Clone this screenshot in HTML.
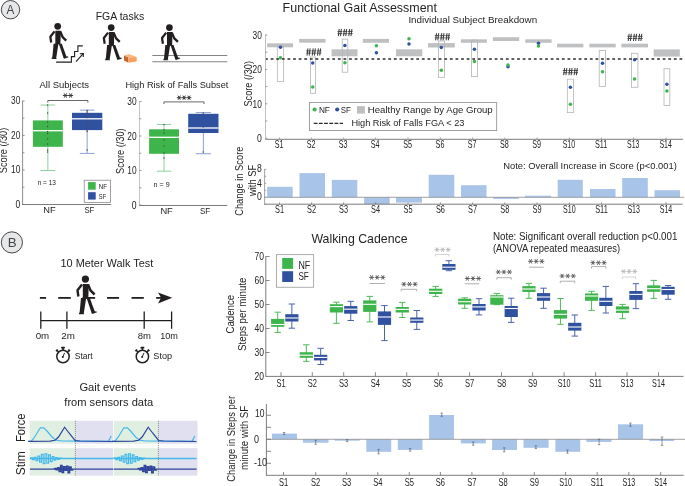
<!DOCTYPE html><html><head><meta charset="utf-8"><style>html,body{margin:0;padding:0;background:#fff;}svg{display:block;font-family:"Liberation Sans",sans-serif;will-change:transform;}</style></head><body>
<svg width="685" height="486" viewBox="0 0 685 486">
<rect width="685" height="486" fill="#fff"/>
<circle cx="10.5" cy="9.7" r="9.2" fill="#e6e7e8" stroke="#333" stroke-width="0.9"/>
<text x="10.5" y="13.8" font-size="13.10" fill="#444" text-anchor="middle" textLength="7.8" lengthAdjust="spacingAndGlyphs" >A</text>
<text x="95.7" y="20.4" font-size="11.02" fill="#242424" textLength="48.5" lengthAdjust="spacingAndGlyphs" >FGA tasks</text>
<g transform="translate(57.7 26.3) scale(0.93)" fill="#231f20" stroke="#231f20">
<circle cx="0" cy="0" r="3.6" stroke="none"/>
<polygon points="-2.6,4.8 3.4,4.8 2.9,19.4 -2.6,19.4" stroke="none"/>
<polyline points="-3.4,5.4 -7.9,11.2 -7.0,17.4" fill="none" stroke-width="2.4" stroke-linejoin="round"/>
<polyline points="2.6,5.4 5.3,11.6 9.2,15.4" fill="none" stroke-width="2.5" stroke-linejoin="round"/>
<polygon points="-4.4,18.8 0.8,18.8 -1.7,34.6 -5.9,34.6" stroke="none"/>
<polygon points="-6.4,33.6 -1.5,34.2 -1.2,35.2 -6.4,35.2" stroke="none"/>
<polygon points="1.2,18.8 4.4,18.8 9.6,33.0 6.4,34.4" stroke="none"/>
<polygon points="6.2,33.2 10.8,32.2 11.6,33.2 7.0,34.8" stroke="none"/>
</g>
<polyline points="56.1,62.1 71.4,62.1 71.4,56.6 74.6,56.6 74.6,51.5 77.9,51.5 77.9,45.9 82.8,45.9" fill="none" stroke="#231f20" stroke-width="1.1"/>
<line x1="76.0" y1="61.7" x2="83.2" y2="53.7" stroke="#231f20" stroke-width="1.1" />
<polyline points="79.8,53.8 83.4,53.5 83.2,57.0" fill="none" stroke="#231f20" stroke-width="1.1"/>
<g transform="translate(111.2 27.6) scale(0.93)" fill="#231f20" stroke="#231f20">
<circle cx="0" cy="0" r="3.6" stroke="none"/>
<polygon points="-2.6,4.8 3.4,4.8 2.9,19.4 -2.6,19.4" stroke="none"/>
<polyline points="-3.4,5.4 -7.9,11.2 -7.0,17.4" fill="none" stroke-width="2.4" stroke-linejoin="round"/>
<polyline points="2.6,5.4 5.3,11.6 9.2,15.4" fill="none" stroke-width="2.5" stroke-linejoin="round"/>
<polygon points="-4.4,18.8 0.8,18.8 -1.7,34.6 -5.9,34.6" stroke="none"/>
<polygon points="-6.4,33.6 -1.5,34.2 -1.2,35.2 -6.4,35.2" stroke="none"/>
<polygon points="1.2,18.8 4.4,18.8 9.6,33.0 6.4,34.4" stroke="none"/>
<polygon points="6.2,33.2 10.8,32.2 11.6,33.2 7.0,34.8" stroke="none"/>
</g>
<polygon points="124,55.6 128.8,54.1 136.7,57 128.3,57.5" fill="#fbb984"/>
<polygon points="124,55.6 128.3,57.5 128.3,62.8 124,60.6" fill="#c4682b"/>
<polygon points="128.3,57.5 136.7,57 136.7,61.6 128.3,62.8" fill="#f6a160"/>
<line x1="152.3" y1="55.5" x2="227.3" y2="55.5" stroke="#858585" stroke-width="1.1" />
<line x1="152.3" y1="61.8" x2="227.3" y2="61.8" stroke="#858585" stroke-width="1.1" />
<g transform="translate(169.4 27.6) scale(0.93)" fill="#231f20" stroke="#231f20">
<circle cx="0" cy="0" r="3.6" stroke="none"/>
<polygon points="-2.6,4.8 3.4,4.8 2.9,19.4 -2.6,19.4" stroke="none"/>
<polyline points="-3.4,5.4 -7.9,11.2 -7.0,17.4" fill="none" stroke-width="2.4" stroke-linejoin="round"/>
<polyline points="2.6,5.4 5.3,11.6 9.2,15.4" fill="none" stroke-width="2.5" stroke-linejoin="round"/>
<polygon points="-4.4,18.8 0.8,18.8 -1.7,34.6 -5.9,34.6" stroke="none"/>
<polygon points="-6.4,33.6 -1.5,34.2 -1.2,35.2 -6.4,35.2" stroke="none"/>
<polygon points="1.2,18.8 4.4,18.8 9.6,33.0 6.4,34.4" stroke="none"/>
<polygon points="6.2,33.2 10.8,32.2 11.6,33.2 7.0,34.8" stroke="none"/>
</g>
<text x="39.5" y="88.1" font-size="9.98" fill="#242424" textLength="49.6" lengthAdjust="spacingAndGlyphs" >All Subjects</text>
<line x1="22.6" y1="100.6" x2="22.6" y2="204.9" stroke="#6d6d6d" stroke-width="0.8" />
<line x1="22.2" y1="204.5" x2="111.2" y2="204.5" stroke="#6d6d6d" stroke-width="0.9" />
<line x1="22.6" y1="204.5" x2="24.6" y2="204.5" stroke="#6d6d6d" stroke-width="0.7" />
<line x1="22.6" y1="187.235" x2="24.4" y2="187.235" stroke="#6d6d6d" stroke-width="0.7" />
<line x1="22.6" y1="169.97" x2="24.6" y2="169.97" stroke="#6d6d6d" stroke-width="0.7" />
<line x1="22.6" y1="152.705" x2="24.4" y2="152.705" stroke="#6d6d6d" stroke-width="0.7" />
<line x1="22.6" y1="135.44" x2="24.6" y2="135.44" stroke="#6d6d6d" stroke-width="0.7" />
<line x1="22.6" y1="118.175" x2="24.4" y2="118.175" stroke="#6d6d6d" stroke-width="0.7" />
<line x1="22.6" y1="100.91000000000001" x2="24.6" y2="100.91000000000001" stroke="#6d6d6d" stroke-width="0.7" />
<text x="20.4" y="104.11000000000001" font-size="11.02" fill="#242424" text-anchor="end" textLength="9.3" lengthAdjust="spacingAndGlyphs" >30</text>
<text x="20.4" y="138.64" font-size="11.02" fill="#242424" text-anchor="end" textLength="9.3" lengthAdjust="spacingAndGlyphs" >20</text>
<text x="20.4" y="173.17" font-size="11.02" fill="#242424" text-anchor="end" textLength="9.3" lengthAdjust="spacingAndGlyphs" >10</text>
<text x="20.4" y="207.7" font-size="11.02" fill="#242424" text-anchor="end" textLength="4.8" lengthAdjust="spacingAndGlyphs" >0</text>
<text x="7.0" y="173.2" font-size="10.82" fill="#242424" textLength="45.5" lengthAdjust="spacingAndGlyphs" transform="rotate(-90 7.0 173.2)" >Score (/30)</text>
<line x1="47.85" y1="105.0" x2="47.85" y2="170.5" stroke="#8fd19a" stroke-width="1" />
<line x1="40.5" y1="105.0" x2="55.2" y2="105.0" stroke="#8fd19a" stroke-width="1" />
<line x1="40.5" y1="170.5" x2="55.2" y2="170.5" stroke="#8fd19a" stroke-width="1" />
<rect x="32.900000000000006" y="120.4" width="29.9" height="26.400000000000006" fill="#3db54a" />
<rect x="32.900000000000006" y="130.04999999999998" width="29.9" height="1.3" fill="#ffffff" />
<line x1="87.15" y1="110.1" x2="87.15" y2="153.4" stroke="#8c9fd2" stroke-width="1" />
<line x1="79.85000000000001" y1="110.1" x2="94.45" y2="110.1" stroke="#8c9fd2" stroke-width="1" />
<line x1="79.85000000000001" y1="153.4" x2="94.45" y2="153.4" stroke="#8c9fd2" stroke-width="1" />
<rect x="72.0" y="112.8" width="30.3" height="17.299999999999997" fill="#3050a0" />
<rect x="72.0" y="118.14999999999999" width="30.3" height="1.3" fill="#ffffff" />
<circle cx="47.6" cy="105" r="0.7" fill="#4a4a4a"/>
<circle cx="47.6" cy="113" r="0.7" fill="#4a4a4a"/>
<circle cx="47.6" cy="122" r="0.7" fill="#4a4a4a"/>
<circle cx="47.6" cy="126.5" r="0.7" fill="#4a4a4a"/>
<circle cx="47.6" cy="131.5" r="0.7" fill="#4a4a4a"/>
<circle cx="47.6" cy="133.5" r="0.7" fill="#4a4a4a"/>
<circle cx="47.6" cy="139" r="0.7" fill="#4a4a4a"/>
<circle cx="47.6" cy="144" r="0.7" fill="#4a4a4a"/>
<circle cx="47.6" cy="150" r="0.7" fill="#4a4a4a"/>
<circle cx="47.6" cy="152" r="0.7" fill="#4a4a4a"/>
<circle cx="87.1" cy="110.5" r="0.7" fill="#4a4a4a"/>
<circle cx="87.1" cy="112" r="0.7" fill="#4a4a4a"/>
<circle cx="87.1" cy="114" r="0.7" fill="#4a4a4a"/>
<circle cx="87.1" cy="117.5" r="0.7" fill="#4a4a4a"/>
<circle cx="87.1" cy="122.5" r="0.7" fill="#4a4a4a"/>
<circle cx="87.1" cy="127" r="0.7" fill="#4a4a4a"/>
<circle cx="87.1" cy="130" r="0.7" fill="#4a4a4a"/>
<circle cx="87.1" cy="131.5" r="0.7" fill="#4a4a4a"/>
<circle cx="87.1" cy="150" r="0.7" fill="#4a4a4a"/>
<polyline points="47.8,102.6 47.8,100.5 87.9,100.5 87.9,102.6" fill="none" stroke="#444" stroke-width="0.8"/>
<line x1="62.90" y1="95.50" x2="67.90" y2="95.50" stroke="#3a3a3a" stroke-width="1.0"/>
<line x1="64.15" y1="93.33" x2="66.65" y2="97.67" stroke="#3a3a3a" stroke-width="1.0"/>
<line x1="66.65" y1="93.33" x2="64.15" y2="97.67" stroke="#3a3a3a" stroke-width="1.0"/>
<line x1="68.10" y1="95.50" x2="73.10" y2="95.50" stroke="#3a3a3a" stroke-width="1.0"/>
<line x1="69.35" y1="93.33" x2="71.85" y2="97.67" stroke="#3a3a3a" stroke-width="1.0"/>
<line x1="71.85" y1="93.33" x2="69.35" y2="97.67" stroke="#3a3a3a" stroke-width="1.0"/>
<text x="37.7" y="184.8" font-size="7.28" fill="#242424" textLength="18.3" lengthAdjust="spacingAndGlyphs" >n = 13</text>
<rect x="84.2" y="180.2" width="26.3" height="22.2" fill="#fff" stroke="#7a7a7a" stroke-width="0.7"/>
<rect x="88.1" y="182.1" width="7.6" height="7.6" fill="#3db54a" />
<rect x="88.1" y="192.2" width="7.6" height="7.4" fill="#3050a0" />
<text x="98.8" y="188.6" font-size="7.07" fill="#242424" textLength="8.2" lengthAdjust="spacingAndGlyphs" >NF</text>
<text x="98.8" y="198.6" font-size="7.07" fill="#242424" textLength="7.4" lengthAdjust="spacingAndGlyphs" >SF</text>
<text x="43.2" y="212.8" font-size="9.88" fill="#242424" textLength="12.4" lengthAdjust="spacingAndGlyphs" >NF</text>
<text x="84.4" y="212.8" font-size="9.88" fill="#242424" textLength="9.9" lengthAdjust="spacingAndGlyphs" >SF</text>
<text x="125.4" y="88.1" font-size="9.98" fill="#242424" textLength="103.0" lengthAdjust="spacingAndGlyphs" >High Risk of Falls Subset</text>
<line x1="139.5" y1="101.2" x2="139.5" y2="205.9" stroke="#b8b8b8" stroke-width="0.8" />
<line x1="139.4" y1="205.5" x2="227.3" y2="205.5" stroke="#6d6d6d" stroke-width="0.9" />
<line x1="139.5" y1="205.0" x2="141.5" y2="205.0" stroke="#6d6d6d" stroke-width="0.7" />
<line x1="139.5" y1="187.75" x2="141.3" y2="187.75" stroke="#6d6d6d" stroke-width="0.7" />
<line x1="139.5" y1="170.5" x2="141.5" y2="170.5" stroke="#6d6d6d" stroke-width="0.7" />
<line x1="139.5" y1="153.25" x2="141.3" y2="153.25" stroke="#6d6d6d" stroke-width="0.7" />
<line x1="139.5" y1="136.0" x2="141.5" y2="136.0" stroke="#6d6d6d" stroke-width="0.7" />
<line x1="139.5" y1="118.75" x2="141.3" y2="118.75" stroke="#6d6d6d" stroke-width="0.7" />
<line x1="139.5" y1="101.5" x2="141.5" y2="101.5" stroke="#6d6d6d" stroke-width="0.7" />
<text x="136.6" y="105.1" font-size="11.02" fill="#242424" text-anchor="end" textLength="9.3" lengthAdjust="spacingAndGlyphs" >30</text>
<text x="136.6" y="139.6" font-size="11.02" fill="#242424" text-anchor="end" textLength="9.3" lengthAdjust="spacingAndGlyphs" >20</text>
<text x="136.6" y="174.1" font-size="11.02" fill="#242424" text-anchor="end" textLength="9.3" lengthAdjust="spacingAndGlyphs" >10</text>
<text x="136.6" y="208.6" font-size="11.02" fill="#242424" text-anchor="end" textLength="4.8" lengthAdjust="spacingAndGlyphs" >0</text>
<text x="124.1" y="173.9" font-size="10.82" fill="#242424" textLength="45.6" lengthAdjust="spacingAndGlyphs" transform="rotate(-90 124.1 173.9)" >Score (/30)</text>
<line x1="164.05" y1="124.5" x2="164.05" y2="171.2" stroke="#8fd19a" stroke-width="1" />
<line x1="156.9" y1="124.5" x2="171.20000000000002" y2="124.5" stroke="#8fd19a" stroke-width="1" />
<line x1="156.9" y1="171.2" x2="171.20000000000002" y2="171.2" stroke="#8fd19a" stroke-width="1" />
<rect x="149.10000000000002" y="129.3" width="29.9" height="24.5" fill="#3db54a" />
<rect x="149.10000000000002" y="136.65" width="29.9" height="1.3" fill="#ffffff" />
<line x1="203.35" y1="112.6" x2="203.35" y2="153.7" stroke="#8c9fd2" stroke-width="1" />
<line x1="195.79999999999998" y1="112.6" x2="210.9" y2="112.6" stroke="#8c9fd2" stroke-width="1" />
<line x1="195.79999999999998" y1="153.7" x2="210.9" y2="153.7" stroke="#8c9fd2" stroke-width="1" />
<rect x="188.2" y="113.8" width="30.3" height="19.200000000000003" fill="#3050a0" />
<rect x="188.2" y="127.35" width="30.3" height="1.3" fill="#ffffff" />
<circle cx="163.9" cy="124.5" r="0.7" fill="#4a4a4a"/>
<circle cx="163.9" cy="130" r="0.7" fill="#4a4a4a"/>
<circle cx="163.9" cy="133" r="0.7" fill="#4a4a4a"/>
<circle cx="163.9" cy="140" r="0.7" fill="#4a4a4a"/>
<circle cx="163.9" cy="146" r="0.7" fill="#4a4a4a"/>
<circle cx="163.9" cy="153" r="0.7" fill="#4a4a4a"/>
<circle cx="163.9" cy="158" r="0.7" fill="#4a4a4a"/>
<circle cx="203.2" cy="113" r="0.7" fill="#4a4a4a"/>
<circle cx="203.2" cy="115" r="0.7" fill="#4a4a4a"/>
<circle cx="203.2" cy="127" r="0.7" fill="#4a4a4a"/>
<circle cx="203.2" cy="131.5" r="0.7" fill="#4a4a4a"/>
<circle cx="203.2" cy="152" r="0.7" fill="#4a4a4a"/>
<polyline points="163.9,104.0 163.9,101.9 204.0,101.9 204.0,104.0" fill="none" stroke="#444" stroke-width="0.8"/>
<line x1="176.80" y1="97.70" x2="181.60" y2="97.70" stroke="#3a3a3a" stroke-width="1.0"/>
<line x1="178.00" y1="95.62" x2="180.40" y2="99.78" stroke="#3a3a3a" stroke-width="1.0"/>
<line x1="180.40" y1="95.62" x2="178.00" y2="99.78" stroke="#3a3a3a" stroke-width="1.0"/>
<line x1="181.70" y1="97.70" x2="186.50" y2="97.70" stroke="#3a3a3a" stroke-width="1.0"/>
<line x1="182.90" y1="95.62" x2="185.30" y2="99.78" stroke="#3a3a3a" stroke-width="1.0"/>
<line x1="185.30" y1="95.62" x2="182.90" y2="99.78" stroke="#3a3a3a" stroke-width="1.0"/>
<line x1="186.60" y1="97.70" x2="191.40" y2="97.70" stroke="#3a3a3a" stroke-width="1.0"/>
<line x1="187.80" y1="95.62" x2="190.20" y2="99.78" stroke="#3a3a3a" stroke-width="1.0"/>
<line x1="190.20" y1="95.62" x2="187.80" y2="99.78" stroke="#3a3a3a" stroke-width="1.0"/>
<text x="153.6" y="186.6" font-size="7.28" fill="#242424" textLength="16.1" lengthAdjust="spacingAndGlyphs" >n = 9</text>
<text x="160.4" y="214.0" font-size="9.67" fill="#242424" textLength="12.4" lengthAdjust="spacingAndGlyphs" >NF</text>
<text x="200.0" y="214.0" font-size="9.67" fill="#242424" textLength="10.2" lengthAdjust="spacingAndGlyphs" >SF</text>
<text x="282.6" y="12.3" font-size="12.90" fill="#242424" textLength="154.4" lengthAdjust="spacingAndGlyphs" >Functional Gait Assessment</text>
<text x="408.4" y="23.1" font-size="9.78" fill="#242424" textLength="128.7" lengthAdjust="spacingAndGlyphs" >Individual Subject Breakdown</text>
<rect x="267.1" y="43.3" width="26.0" height="4.0" fill="#bfc0c2" />
<rect x="299.1" y="38.9" width="26.399999999999977" height="3.8000000000000043" fill="#bfc0c2" />
<rect x="331.6" y="49.3" width="25.899999999999977" height="7.0" fill="#bfc0c2" />
<rect x="362.8" y="38.9" width="26.19999999999999" height="3.8999999999999986" fill="#bfc0c2" />
<rect x="396.0" y="49.3" width="26.30000000000001" height="7.0" fill="#bfc0c2" />
<rect x="428.1" y="43.1" width="26.69999999999999" height="4.399999999999999" fill="#bfc0c2" />
<rect x="460.9" y="39.3" width="25.900000000000034" height="3.5" fill="#bfc0c2" />
<rect x="492.9" y="37.2" width="26.300000000000068" height="3.799999999999997" fill="#bfc0c2" />
<rect x="525.3" y="39.3" width="26.300000000000068" height="3.5" fill="#bfc0c2" />
<rect x="557.1" y="43.7" width="26.299999999999955" height="3.6999999999999957" fill="#bfc0c2" />
<rect x="589.3" y="43.7" width="26.40000000000009" height="3.6999999999999957" fill="#bfc0c2" />
<rect x="621.4" y="43.7" width="26.600000000000023" height="3.6999999999999957" fill="#bfc0c2" />
<rect x="653.7" y="49.4" width="26.09999999999991" height="7.200000000000003" fill="#bfc0c2" />
<rect x="277.3" y="45.2" width="6.099999999999966" height="36.2" fill="none" stroke="#b5b5b5" stroke-width="0.8"/>
<rect x="310.4" y="57.0" width="5.2000000000000455" height="36.3" fill="none" stroke="#b5b5b5" stroke-width="0.8"/>
<rect x="342.2" y="39.1" width="5.600000000000023" height="33.1" fill="none" stroke="#b5b5b5" stroke-width="0.8"/>
<rect x="438.5" y="41.0" width="6.100000000000023" height="36.3" fill="none" stroke="#b5b5b5" stroke-width="0.8"/>
<rect x="471.4" y="40.1" width="6.100000000000023" height="36.49999999999999" fill="none" stroke="#b5b5b5" stroke-width="0.8"/>
<rect x="567.3" y="79.2" width="6.2000000000000455" height="33.39999999999999" fill="none" stroke="#b5b5b5" stroke-width="0.8"/>
<rect x="599.2" y="50.4" width="6.199999999999932" height="36.00000000000001" fill="none" stroke="#b5b5b5" stroke-width="0.8"/>
<rect x="631.5" y="53.3" width="6.399999999999977" height="34.0" fill="none" stroke="#b5b5b5" stroke-width="0.8"/>
<rect x="664.0" y="68.7" width="5.7999999999999545" height="36.7" fill="none" stroke="#b5b5b5" stroke-width="0.8"/>
<line x1="265.1" y1="58.9" x2="684" y2="58.9" stroke="#2b2b2b" stroke-width="1.5" stroke-dasharray="2.75 2.85"/>
<circle cx="280.5" cy="57.8" r="1.75" fill="#3cb54a"/>
<circle cx="280.5" cy="47.3" r="1.75" fill="#3050a0"/>
<circle cx="312.7" cy="87.1" r="1.75" fill="#3cb54a"/>
<circle cx="312.7" cy="63.1" r="1.75" fill="#3050a0"/>
<line x1="307.90" y1="48.40" x2="307.00" y2="55.60" stroke="#3a3a3a" stroke-width="1.0"/>
<line x1="310.10" y1="48.40" x2="309.20" y2="55.60" stroke="#3a3a3a" stroke-width="1.0"/>
<line x1="306.25" y1="50.90" x2="310.85" y2="50.90" stroke="#3a3a3a" stroke-width="0.9"/>
<line x1="306.25" y1="53.10" x2="310.85" y2="53.10" stroke="#3a3a3a" stroke-width="0.9"/>
<line x1="313.15" y1="48.40" x2="312.25" y2="55.60" stroke="#3a3a3a" stroke-width="1.0"/>
<line x1="315.35" y1="48.40" x2="314.45" y2="55.60" stroke="#3a3a3a" stroke-width="1.0"/>
<line x1="311.50" y1="50.90" x2="316.10" y2="50.90" stroke="#3a3a3a" stroke-width="0.9"/>
<line x1="311.50" y1="53.10" x2="316.10" y2="53.10" stroke="#3a3a3a" stroke-width="0.9"/>
<line x1="318.40" y1="48.40" x2="317.50" y2="55.60" stroke="#3a3a3a" stroke-width="1.0"/>
<line x1="320.60" y1="48.40" x2="319.70" y2="55.60" stroke="#3a3a3a" stroke-width="1.0"/>
<line x1="316.75" y1="50.90" x2="321.35" y2="50.90" stroke="#3a3a3a" stroke-width="0.9"/>
<line x1="316.75" y1="53.10" x2="321.35" y2="53.10" stroke="#3a3a3a" stroke-width="0.9"/>
<circle cx="344.9" cy="62.7" r="1.75" fill="#3cb54a"/>
<circle cx="344.9" cy="45.5" r="1.75" fill="#3050a0"/>
<line x1="339.20" y1="28.95" x2="338.30" y2="36.15" stroke="#3a3a3a" stroke-width="1.0"/>
<line x1="341.40" y1="28.95" x2="340.50" y2="36.15" stroke="#3a3a3a" stroke-width="1.0"/>
<line x1="337.55" y1="31.45" x2="342.15" y2="31.45" stroke="#3a3a3a" stroke-width="0.9"/>
<line x1="337.55" y1="33.65" x2="342.15" y2="33.65" stroke="#3a3a3a" stroke-width="0.9"/>
<line x1="344.45" y1="28.95" x2="343.55" y2="36.15" stroke="#3a3a3a" stroke-width="1.0"/>
<line x1="346.65" y1="28.95" x2="345.75" y2="36.15" stroke="#3a3a3a" stroke-width="1.0"/>
<line x1="342.80" y1="31.45" x2="347.40" y2="31.45" stroke="#3a3a3a" stroke-width="0.9"/>
<line x1="342.80" y1="33.65" x2="347.40" y2="33.65" stroke="#3a3a3a" stroke-width="0.9"/>
<line x1="349.70" y1="28.95" x2="348.80" y2="36.15" stroke="#3a3a3a" stroke-width="1.0"/>
<line x1="351.90" y1="28.95" x2="351.00" y2="36.15" stroke="#3a3a3a" stroke-width="1.0"/>
<line x1="348.05" y1="31.45" x2="352.65" y2="31.45" stroke="#3a3a3a" stroke-width="0.9"/>
<line x1="348.05" y1="33.65" x2="352.65" y2="33.65" stroke="#3a3a3a" stroke-width="0.9"/>
<circle cx="376.4" cy="45.8" r="1.75" fill="#3cb54a"/>
<circle cx="376.4" cy="52.8" r="1.75" fill="#3050a0"/>
<circle cx="409.0" cy="38.7" r="1.75" fill="#3cb54a"/>
<circle cx="409.0" cy="44.0" r="1.75" fill="#3050a0"/>
<circle cx="441.3" cy="70.3" r="1.75" fill="#3cb54a"/>
<circle cx="441.3" cy="47.5" r="1.75" fill="#3050a0"/>
<line x1="436.50" y1="33.15" x2="435.60" y2="40.35" stroke="#3a3a3a" stroke-width="1.0"/>
<line x1="438.70" y1="33.15" x2="437.80" y2="40.35" stroke="#3a3a3a" stroke-width="1.0"/>
<line x1="434.85" y1="35.65" x2="439.45" y2="35.65" stroke="#3a3a3a" stroke-width="0.9"/>
<line x1="434.85" y1="37.85" x2="439.45" y2="37.85" stroke="#3a3a3a" stroke-width="0.9"/>
<line x1="441.75" y1="33.15" x2="440.85" y2="40.35" stroke="#3a3a3a" stroke-width="1.0"/>
<line x1="443.95" y1="33.15" x2="443.05" y2="40.35" stroke="#3a3a3a" stroke-width="1.0"/>
<line x1="440.10" y1="35.65" x2="444.70" y2="35.65" stroke="#3a3a3a" stroke-width="0.9"/>
<line x1="440.10" y1="37.85" x2="444.70" y2="37.85" stroke="#3a3a3a" stroke-width="0.9"/>
<line x1="447.00" y1="33.15" x2="446.10" y2="40.35" stroke="#3a3a3a" stroke-width="1.0"/>
<line x1="449.20" y1="33.15" x2="448.30" y2="40.35" stroke="#3a3a3a" stroke-width="1.0"/>
<line x1="445.35" y1="35.65" x2="449.95" y2="35.65" stroke="#3a3a3a" stroke-width="0.9"/>
<line x1="445.35" y1="37.85" x2="449.95" y2="37.85" stroke="#3a3a3a" stroke-width="0.9"/>
<circle cx="474.4" cy="61.5" r="1.75" fill="#3cb54a"/>
<circle cx="474.4" cy="49.3" r="1.75" fill="#3050a0"/>
<circle cx="508.0" cy="66.8" r="1.75" fill="#3050a0"/>
<circle cx="508.0" cy="65.0" r="1.75" fill="#3cb54a"/>
<circle cx="538.5" cy="43.3" r="1.75" fill="#3050a0"/>
<circle cx="538.5" cy="45.9" r="1.75" fill="#3cb54a"/>
<circle cx="570.4" cy="104.3" r="1.75" fill="#3cb54a"/>
<circle cx="570.4" cy="87.3" r="1.75" fill="#3050a0"/>
<line x1="564.60" y1="68.00" x2="563.70" y2="75.20" stroke="#3a3a3a" stroke-width="1.0"/>
<line x1="566.80" y1="68.00" x2="565.90" y2="75.20" stroke="#3a3a3a" stroke-width="1.0"/>
<line x1="562.95" y1="70.50" x2="567.55" y2="70.50" stroke="#3a3a3a" stroke-width="0.9"/>
<line x1="562.95" y1="72.70" x2="567.55" y2="72.70" stroke="#3a3a3a" stroke-width="0.9"/>
<line x1="569.85" y1="68.00" x2="568.95" y2="75.20" stroke="#3a3a3a" stroke-width="1.0"/>
<line x1="572.05" y1="68.00" x2="571.15" y2="75.20" stroke="#3a3a3a" stroke-width="1.0"/>
<line x1="568.20" y1="70.50" x2="572.80" y2="70.50" stroke="#3a3a3a" stroke-width="0.9"/>
<line x1="568.20" y1="72.70" x2="572.80" y2="72.70" stroke="#3a3a3a" stroke-width="0.9"/>
<line x1="575.10" y1="68.00" x2="574.20" y2="75.20" stroke="#3a3a3a" stroke-width="1.0"/>
<line x1="577.30" y1="68.00" x2="576.40" y2="75.20" stroke="#3a3a3a" stroke-width="1.0"/>
<line x1="573.45" y1="70.50" x2="578.05" y2="70.50" stroke="#3a3a3a" stroke-width="0.9"/>
<line x1="573.45" y1="72.70" x2="578.05" y2="72.70" stroke="#3a3a3a" stroke-width="0.9"/>
<circle cx="602.5" cy="71.8" r="1.75" fill="#3cb54a"/>
<circle cx="602.5" cy="63.2" r="1.75" fill="#3050a0"/>
<circle cx="634.6" cy="79.0" r="1.75" fill="#3cb54a"/>
<circle cx="634.6" cy="59.7" r="1.75" fill="#3050a0"/>
<line x1="629.10" y1="33.80" x2="628.20" y2="41.00" stroke="#3a3a3a" stroke-width="1.0"/>
<line x1="631.30" y1="33.80" x2="630.40" y2="41.00" stroke="#3a3a3a" stroke-width="1.0"/>
<line x1="627.45" y1="36.30" x2="632.05" y2="36.30" stroke="#3a3a3a" stroke-width="0.9"/>
<line x1="627.45" y1="38.50" x2="632.05" y2="38.50" stroke="#3a3a3a" stroke-width="0.9"/>
<line x1="634.35" y1="33.80" x2="633.45" y2="41.00" stroke="#3a3a3a" stroke-width="1.0"/>
<line x1="636.55" y1="33.80" x2="635.65" y2="41.00" stroke="#3a3a3a" stroke-width="1.0"/>
<line x1="632.70" y1="36.30" x2="637.30" y2="36.30" stroke="#3a3a3a" stroke-width="0.9"/>
<line x1="632.70" y1="38.50" x2="637.30" y2="38.50" stroke="#3a3a3a" stroke-width="0.9"/>
<line x1="639.60" y1="33.80" x2="638.70" y2="41.00" stroke="#3a3a3a" stroke-width="1.0"/>
<line x1="641.80" y1="33.80" x2="640.90" y2="41.00" stroke="#3a3a3a" stroke-width="1.0"/>
<line x1="637.95" y1="36.30" x2="642.55" y2="36.30" stroke="#3a3a3a" stroke-width="0.9"/>
<line x1="637.95" y1="38.50" x2="642.55" y2="38.50" stroke="#3a3a3a" stroke-width="0.9"/>
<circle cx="666.9" cy="91.0" r="1.75" fill="#3cb54a"/>
<circle cx="666.9" cy="84.2" r="1.75" fill="#3050a0"/>
<line x1="265.5" y1="34.6" x2="265.5" y2="139.4" stroke="#b8b8b8" stroke-width="0.9" />
<line x1="265.5" y1="139.3" x2="683" y2="139.3" stroke="#6d6d6d" stroke-width="0.9" />
<line x1="265.5" y1="138.2" x2="267.3" y2="138.2" stroke="#6d6d6d" stroke-width="0.7" />
<line x1="265.5" y1="120.99999999999999" x2="267.3" y2="120.99999999999999" stroke="#6d6d6d" stroke-width="0.7" />
<line x1="265.5" y1="103.79999999999998" x2="267.3" y2="103.79999999999998" stroke="#6d6d6d" stroke-width="0.7" />
<line x1="265.5" y1="86.6" x2="267.3" y2="86.6" stroke="#6d6d6d" stroke-width="0.7" />
<line x1="265.5" y1="69.39999999999999" x2="267.3" y2="69.39999999999999" stroke="#6d6d6d" stroke-width="0.7" />
<line x1="265.5" y1="52.19999999999999" x2="267.3" y2="52.19999999999999" stroke="#6d6d6d" stroke-width="0.7" />
<line x1="265.5" y1="34.999999999999986" x2="267.3" y2="34.999999999999986" stroke="#6d6d6d" stroke-width="0.7" />
<text x="261.9" y="38.79999999999998" font-size="11.02" fill="#242424" text-anchor="end" textLength="9.3" lengthAdjust="spacingAndGlyphs" >30</text>
<text x="261.9" y="73.19999999999999" font-size="11.02" fill="#242424" text-anchor="end" textLength="9.3" lengthAdjust="spacingAndGlyphs" >20</text>
<text x="261.9" y="107.59999999999998" font-size="11.02" fill="#242424" text-anchor="end" textLength="9.3" lengthAdjust="spacingAndGlyphs" >10</text>
<text x="261.9" y="142.0" font-size="11.02" fill="#242424" text-anchor="end" textLength="4.8" lengthAdjust="spacingAndGlyphs" >0</text>
<text x="251.6" y="106.6" font-size="10.82" fill="#242424" textLength="45.6" lengthAdjust="spacingAndGlyphs" transform="rotate(-90 251.6 106.6)" >Score (/30)</text>
<line x1="279.5" y1="139.3" x2="279.5" y2="137.4" stroke="#8a8a8a" stroke-width="0.7" />
<text x="279.1" y="148.3" font-size="10.19" fill="#242424" text-anchor="middle" textLength="8.8" lengthAdjust="spacingAndGlyphs" >S1</text>
<line x1="311.6" y1="139.3" x2="311.6" y2="137.4" stroke="#8a8a8a" stroke-width="0.7" />
<text x="311.20000000000005" y="148.3" font-size="10.19" fill="#242424" text-anchor="middle" textLength="8.8" lengthAdjust="spacingAndGlyphs" >S2</text>
<line x1="343.6" y1="139.3" x2="343.6" y2="137.4" stroke="#8a8a8a" stroke-width="0.7" />
<text x="343.20000000000005" y="148.3" font-size="10.19" fill="#242424" text-anchor="middle" textLength="8.8" lengthAdjust="spacingAndGlyphs" >S3</text>
<line x1="375.6" y1="139.3" x2="375.6" y2="137.4" stroke="#8a8a8a" stroke-width="0.7" />
<text x="375.20000000000005" y="148.3" font-size="10.19" fill="#242424" text-anchor="middle" textLength="8.8" lengthAdjust="spacingAndGlyphs" >S4</text>
<line x1="408.0" y1="139.3" x2="408.0" y2="137.4" stroke="#8a8a8a" stroke-width="0.7" />
<text x="407.6" y="148.3" font-size="10.19" fill="#242424" text-anchor="middle" textLength="8.8" lengthAdjust="spacingAndGlyphs" >S5</text>
<line x1="440.4" y1="139.3" x2="440.4" y2="137.4" stroke="#8a8a8a" stroke-width="0.7" />
<text x="440.0" y="148.3" font-size="10.19" fill="#242424" text-anchor="middle" textLength="8.8" lengthAdjust="spacingAndGlyphs" >S6</text>
<line x1="472.6" y1="139.3" x2="472.6" y2="137.4" stroke="#8a8a8a" stroke-width="0.7" />
<text x="472.20000000000005" y="148.3" font-size="10.19" fill="#242424" text-anchor="middle" textLength="8.8" lengthAdjust="spacingAndGlyphs" >S7</text>
<line x1="504.8" y1="139.3" x2="504.8" y2="137.4" stroke="#8a8a8a" stroke-width="0.7" />
<text x="504.40000000000003" y="148.3" font-size="10.19" fill="#242424" text-anchor="middle" textLength="8.8" lengthAdjust="spacingAndGlyphs" >S8</text>
<line x1="537.0" y1="139.3" x2="537.0" y2="137.4" stroke="#8a8a8a" stroke-width="0.7" />
<text x="536.6" y="148.3" font-size="10.19" fill="#242424" text-anchor="middle" textLength="8.8" lengthAdjust="spacingAndGlyphs" >S9</text>
<line x1="569.3" y1="139.3" x2="569.3" y2="137.4" stroke="#8a8a8a" stroke-width="0.7" />
<text x="568.9" y="148.3" font-size="10.19" fill="#242424" text-anchor="middle" textLength="12.4" lengthAdjust="spacingAndGlyphs" >S10</text>
<line x1="601.5" y1="139.3" x2="601.5" y2="137.4" stroke="#8a8a8a" stroke-width="0.7" />
<text x="601.1" y="148.3" font-size="10.19" fill="#242424" text-anchor="middle" textLength="12.4" lengthAdjust="spacingAndGlyphs" >S11</text>
<line x1="633.7" y1="139.3" x2="633.7" y2="137.4" stroke="#8a8a8a" stroke-width="0.7" />
<text x="633.3000000000001" y="148.3" font-size="10.19" fill="#242424" text-anchor="middle" textLength="12.4" lengthAdjust="spacingAndGlyphs" >S13</text>
<line x1="666.0" y1="139.3" x2="666.0" y2="137.4" stroke="#8a8a8a" stroke-width="0.7" />
<text x="665.6" y="148.3" font-size="10.19" fill="#242424" text-anchor="middle" textLength="12.4" lengthAdjust="spacingAndGlyphs" >S14</text>
<rect x="309.5" y="102.6" width="187.2" height="28.0" fill="#fff" stroke="#8a8a8a" stroke-width="0.8"/>
<circle cx="314.6" cy="109.5" r="2.1" fill="#3cb54a"/>
<text x="318.9" y="113.2" font-size="9.98" fill="#242424" textLength="11.0" lengthAdjust="spacingAndGlyphs" >NF</text>
<circle cx="337.2" cy="109.5" r="2.1" fill="#3050a0"/>
<text x="340.8" y="113.2" font-size="9.98" fill="#242424" textLength="10.1" lengthAdjust="spacingAndGlyphs" >SF</text>
<rect x="357.0" y="106.2" width="7.9" height="7.4" fill="#bdbebf" />
<text x="367.8" y="113.3" font-size="9.57" fill="#242424" textLength="124.9" lengthAdjust="spacingAndGlyphs" >Healthy Range by Age Group</text>
<line x1="313.7" y1="123.3" x2="343.0" y2="123.3" stroke="#2b2b2b" stroke-width="1.3" stroke-dasharray="3.8 1.4"/>
<text x="351.4" y="125.9" font-size="9.57" fill="#242424" textLength="113.0" lengthAdjust="spacingAndGlyphs" >High Risk of Falls FGA &lt; 23</text>
<rect x="267.2" y="186.8" width="25.5" height="10.5" fill="#a8c4e8" />
<rect x="299.5" y="173.1" width="25.5" height="24.200000000000017" fill="#a8c4e8" />
<rect x="331.8" y="179.9" width="25.5" height="17.400000000000006" fill="#a8c4e8" />
<rect x="364.2" y="197.3" width="25.5" height="6.799999999999983" fill="#a8c4e8" />
<rect x="396.0" y="197.3" width="26.0" height="5.299999999999983" fill="#a8c4e8" />
<rect x="428.7" y="174.8" width="25.600000000000023" height="22.5" fill="#a8c4e8" />
<rect x="461.0" y="185.2" width="25.5" height="12.100000000000023" fill="#a8c4e8" />
<rect x="493.2" y="197.3" width="25.599999999999966" height="1.5999999999999943" fill="#a8c4e8" />
<rect x="524.9" y="195.7" width="26.100000000000023" height="1.6000000000000227" fill="#a8c4e8" />
<rect x="557.7" y="179.8" width="25.09999999999991" height="17.5" fill="#a8c4e8" />
<rect x="590.0" y="189.0" width="25.5" height="8.300000000000011" fill="#a8c4e8" />
<rect x="622.2" y="178.0" width="25.59999999999991" height="19.30000000000001" fill="#a8c4e8" />
<rect x="654.5" y="190.2" width="25.5" height="7.100000000000023" fill="#a8c4e8" />
<line x1="264.6" y1="197.3" x2="684" y2="197.3" stroke="#8a8a8a" stroke-width="0.8" />
<line x1="264.6" y1="169.0" x2="264.6" y2="204.6" stroke="#8a8a8a" stroke-width="0.8" />
<line x1="264.6" y1="204.2" x2="682.5" y2="204.2" stroke="#6d6d6d" stroke-width="0.9" />
<line x1="264.6" y1="169.3" x2="266.4" y2="169.3" stroke="#8a8a8a" stroke-width="0.7" />
<line x1="264.6" y1="176.3" x2="266.4" y2="176.3" stroke="#8a8a8a" stroke-width="0.7" />
<line x1="264.6" y1="183.3" x2="266.4" y2="183.3" stroke="#8a8a8a" stroke-width="0.7" />
<line x1="264.6" y1="190.3" x2="266.4" y2="190.3" stroke="#8a8a8a" stroke-width="0.7" />
<line x1="264.6" y1="197.3" x2="266.4" y2="197.3" stroke="#8a8a8a" stroke-width="0.7" />
<line x1="264.6" y1="204.3" x2="266.4" y2="204.3" stroke="#8a8a8a" stroke-width="0.7" />
<text x="261.9" y="172.0" font-size="10.61" fill="#242424" text-anchor="end" textLength="4.8" lengthAdjust="spacingAndGlyphs" >8</text>
<text x="261.9" y="187.0" font-size="10.61" fill="#242424" text-anchor="end" textLength="4.8" lengthAdjust="spacingAndGlyphs" >4</text>
<text x="261.9" y="200.2" font-size="10.61" fill="#242424" text-anchor="end" textLength="4.8" lengthAdjust="spacingAndGlyphs" >0</text>
<line x1="279.5" y1="204.2" x2="279.5" y2="202.4" stroke="#6d6d6d" stroke-width="0.7" />
<text x="279.5" y="213.4" font-size="10.19" fill="#242424" text-anchor="middle" textLength="9.0" lengthAdjust="spacingAndGlyphs" >S1</text>
<line x1="311.6" y1="204.2" x2="311.6" y2="202.4" stroke="#6d6d6d" stroke-width="0.7" />
<text x="311.6" y="213.4" font-size="10.19" fill="#242424" text-anchor="middle" textLength="9.0" lengthAdjust="spacingAndGlyphs" >S2</text>
<line x1="343.6" y1="204.2" x2="343.6" y2="202.4" stroke="#6d6d6d" stroke-width="0.7" />
<text x="343.6" y="213.4" font-size="10.19" fill="#242424" text-anchor="middle" textLength="9.0" lengthAdjust="spacingAndGlyphs" >S3</text>
<line x1="375.6" y1="204.2" x2="375.6" y2="202.4" stroke="#6d6d6d" stroke-width="0.7" />
<text x="375.6" y="213.4" font-size="10.19" fill="#242424" text-anchor="middle" textLength="9.0" lengthAdjust="spacingAndGlyphs" >S4</text>
<line x1="408.0" y1="204.2" x2="408.0" y2="202.4" stroke="#6d6d6d" stroke-width="0.7" />
<text x="408.0" y="213.4" font-size="10.19" fill="#242424" text-anchor="middle" textLength="9.0" lengthAdjust="spacingAndGlyphs" >S5</text>
<line x1="440.4" y1="204.2" x2="440.4" y2="202.4" stroke="#6d6d6d" stroke-width="0.7" />
<text x="440.4" y="213.4" font-size="10.19" fill="#242424" text-anchor="middle" textLength="9.0" lengthAdjust="spacingAndGlyphs" >S6</text>
<line x1="472.6" y1="204.2" x2="472.6" y2="202.4" stroke="#6d6d6d" stroke-width="0.7" />
<text x="472.6" y="213.4" font-size="10.19" fill="#242424" text-anchor="middle" textLength="9.0" lengthAdjust="spacingAndGlyphs" >S7</text>
<line x1="504.8" y1="204.2" x2="504.8" y2="202.4" stroke="#6d6d6d" stroke-width="0.7" />
<text x="504.8" y="213.4" font-size="10.19" fill="#242424" text-anchor="middle" textLength="9.0" lengthAdjust="spacingAndGlyphs" >S8</text>
<line x1="537.0" y1="204.2" x2="537.0" y2="202.4" stroke="#6d6d6d" stroke-width="0.7" />
<text x="537.0" y="213.4" font-size="10.19" fill="#242424" text-anchor="middle" textLength="9.0" lengthAdjust="spacingAndGlyphs" >S9</text>
<line x1="569.3" y1="204.2" x2="569.3" y2="202.4" stroke="#6d6d6d" stroke-width="0.7" />
<text x="569.3" y="213.4" font-size="10.19" fill="#242424" text-anchor="middle" textLength="12.6" lengthAdjust="spacingAndGlyphs" >S10</text>
<line x1="601.5" y1="204.2" x2="601.5" y2="202.4" stroke="#6d6d6d" stroke-width="0.7" />
<text x="601.5" y="213.4" font-size="10.19" fill="#242424" text-anchor="middle" textLength="12.6" lengthAdjust="spacingAndGlyphs" >S11</text>
<line x1="633.7" y1="204.2" x2="633.7" y2="202.4" stroke="#6d6d6d" stroke-width="0.7" />
<text x="633.7" y="213.4" font-size="10.19" fill="#242424" text-anchor="middle" textLength="12.6" lengthAdjust="spacingAndGlyphs" >S13</text>
<line x1="666.0" y1="204.2" x2="666.0" y2="202.4" stroke="#6d6d6d" stroke-width="0.7" />
<text x="666.0" y="213.4" font-size="10.19" fill="#242424" text-anchor="middle" textLength="12.6" lengthAdjust="spacingAndGlyphs" >S14</text>
<text x="503.2" y="169.4" font-size="9.78" fill="#242424" textLength="173.6" lengthAdjust="spacingAndGlyphs" >Note: Overall Increase in Score (p&lt;0.001)</text>
<text x="243.2" y="215.8" font-size="11.02" fill="#242424" textLength="69.2" lengthAdjust="spacingAndGlyphs" transform="rotate(-90 243.2 215.8)" >Change in Score</text>
<text x="256.2" y="196.0" font-size="10.82" fill="#242424" textLength="31.3" lengthAdjust="spacingAndGlyphs" transform="rotate(-90 256.2 196.0)" >with SF</text>
<circle cx="11.9" cy="242.4" r="10.6" fill="#e6e7e8" stroke="#333" stroke-width="0.9"/>
<text x="12.1" y="246.8" font-size="13.31" fill="#444" text-anchor="middle" >B</text>
<text x="60.5" y="267.4" font-size="11.65" fill="#242424" textLength="92.8" lengthAdjust="spacingAndGlyphs" >10 Meter Walk Test</text>
<line x1="39.9" y1="297.9" x2="46.1" y2="297.9" stroke="#231f20" stroke-width="1.8" />
<line x1="58.2" y1="297.9" x2="70.8" y2="297.9" stroke="#231f20" stroke-width="1.8" />
<line x1="82.6" y1="297.9" x2="95.1" y2="297.9" stroke="#231f20" stroke-width="1.8" />
<line x1="107.0" y1="297.9" x2="119.1" y2="297.9" stroke="#231f20" stroke-width="1.8" />
<line x1="131.5" y1="297.9" x2="143.8" y2="297.9" stroke="#231f20" stroke-width="1.8" />
<line x1="156.2" y1="297.9" x2="161.0" y2="297.9" stroke="#231f20" stroke-width="1.8" />
<polygon points="172.2,297.8 158.0,292.4 161.1,297.8 158.0,303.6" fill="#231f20"/>
<g transform="translate(85.4 279.1) scale(1.0)" fill="#231f20" stroke="#231f20">
<circle cx="0" cy="0" r="3.6" stroke="none"/>
<polygon points="-2.6,4.8 3.4,4.8 2.9,19.4 -2.6,19.4" stroke="none"/>
<polyline points="-3.4,5.4 -7.9,11.2 -7.0,17.4" fill="none" stroke-width="2.4" stroke-linejoin="round"/>
<polyline points="2.6,5.4 5.3,11.6 9.2,15.4" fill="none" stroke-width="2.5" stroke-linejoin="round"/>
<polygon points="-4.4,18.8 0.8,18.8 -1.7,34.6 -5.9,34.6" stroke="none"/>
<polygon points="-6.4,33.6 -1.5,34.2 -1.2,35.2 -6.4,35.2" stroke="none"/>
<polygon points="1.2,18.8 4.4,18.8 9.6,33.0 6.4,34.4" stroke="none"/>
<polygon points="6.2,33.2 10.8,32.2 11.6,33.2 7.0,34.8" stroke="none"/>
</g>
<line x1="40.8" y1="320.6" x2="171.6" y2="320.6" stroke="#231f20" stroke-width="1.3" />
<line x1="40.8" y1="311.5" x2="40.8" y2="328.8" stroke="#231f20" stroke-width="1.3" />
<line x1="66.9" y1="311.5" x2="66.9" y2="328.8" stroke="#231f20" stroke-width="1.3" />
<line x1="144.2" y1="311.5" x2="144.2" y2="328.8" stroke="#231f20" stroke-width="1.3" />
<line x1="171.6" y1="311.5" x2="171.6" y2="328.8" stroke="#231f20" stroke-width="1.3" />
<text x="35.7" y="339.3" font-size="9.15" fill="#242424" textLength="13.5" lengthAdjust="spacingAndGlyphs" >0m</text>
<text x="61.2" y="339.3" font-size="9.15" fill="#242424" textLength="13.6" lengthAdjust="spacingAndGlyphs" >2m</text>
<text x="137.7" y="339.3" font-size="9.15" fill="#242424" textLength="13.2" lengthAdjust="spacingAndGlyphs" >8m</text>
<text x="160.2" y="339.3" font-size="9.15" fill="#242424" textLength="17.8" lengthAdjust="spacingAndGlyphs" >10m</text>
<g fill="none" stroke="#231f20">
<circle cx="63.0" cy="356.5" r="6.2" stroke-width="1.5"/>
<rect x="62.2" y="347.9" width="1.6" height="2.4" fill="#231f20" stroke="none"/>
<rect x="61.1" y="346.7" width="3.8" height="1.7" rx="0.5" fill="#231f20" stroke="none"/>
<line x1="58.5" y1="352.0" x2="56.8" y2="350.3" stroke-width="1.5"/>
<line x1="67.5" y1="352.0" x2="69.2" y2="350.3" stroke-width="1.5"/>
<line x1="56.0" y1="351.1" x2="57.6" y2="349.5" stroke-width="1.5"/>
<line x1="70.0" y1="351.1" x2="68.4" y2="349.5" stroke-width="1.5"/>
<line x1="62.7" y1="357.1" x2="64.6" y2="352.9" stroke-width="1.0"/>
<circle cx="62.8" cy="356.9" r="1.0" fill="#231f20" stroke="none"/>
</g>
<g fill="none" stroke="#231f20">
<circle cx="142.4" cy="356.5" r="6.2" stroke-width="1.5"/>
<rect x="141.6" y="347.9" width="1.6" height="2.4" fill="#231f20" stroke="none"/>
<rect x="140.5" y="346.7" width="3.8" height="1.7" rx="0.5" fill="#231f20" stroke="none"/>
<line x1="137.9" y1="352.0" x2="136.20000000000002" y2="350.3" stroke-width="1.5"/>
<line x1="146.9" y1="352.0" x2="148.6" y2="350.3" stroke-width="1.5"/>
<line x1="135.4" y1="351.1" x2="137.0" y2="349.5" stroke-width="1.5"/>
<line x1="149.4" y1="351.1" x2="147.8" y2="349.5" stroke-width="1.5"/>
<line x1="142.1" y1="357.1" x2="144.0" y2="352.9" stroke-width="1.0"/>
<circle cx="142.20000000000002" cy="356.9" r="1.0" fill="#231f20" stroke="none"/>
</g>
<text x="74.8" y="358.6" font-size="9.36" fill="#242424" textLength="17.9" lengthAdjust="spacingAndGlyphs" >Start</text>
<text x="153.3" y="358.6" font-size="9.36" fill="#242424" textLength="18.8" lengthAdjust="spacingAndGlyphs" >Stop</text>
<text x="79.4" y="391.1" font-size="11.02" fill="#242424" textLength="56.7" lengthAdjust="spacingAndGlyphs" >Gait events</text>
<text x="64.3" y="405.5" font-size="11.02" fill="#242424" textLength="89.0" lengthAdjust="spacingAndGlyphs" >from sensors data</text>
<text x="24.6" y="442.0" font-size="13.10" fill="#242424" textLength="28.6" lengthAdjust="spacingAndGlyphs" transform="rotate(-90 24.6 442.0)" >Force</text>
<text x="24.6" y="475.2" font-size="13.10" fill="#242424" textLength="23.9" lengthAdjust="spacingAndGlyphs" transform="rotate(-90 24.6 475.2)" >Stim</text>
<rect x="29.7" y="420.8" width="45.7" height="23.0" fill="#e1efe3" />
<rect x="75.4" y="420.8" width="37.69999999999999" height="23.0" fill="#e0e0f0" />
<rect x="29.7" y="448.2" width="45.7" height="27.4" fill="#e1efe3" />
<rect x="75.4" y="448.2" width="37.69999999999999" height="27.4" fill="#e0e0f0" />
<rect x="113.9" y="420.8" width="44.5" height="23.0" fill="#e1efe3" />
<rect x="158.4" y="420.8" width="39.099999999999994" height="23.0" fill="#e0e0f0" />
<rect x="113.9" y="448.2" width="44.5" height="27.4" fill="#e1efe3" />
<rect x="158.4" y="448.2" width="39.099999999999994" height="27.4" fill="#e0e0f0" />
<polyline points="28.2,441.4 31.5,441.0 34,438 40.3,427.8 43.8,427.8 47,431 52,437 56,440.2 62,441.0 80,441.2 110.5,441.4" fill="none" stroke="#45b9ea" stroke-width="1.2"/>
<line x1="108.4" y1="441.4" x2="111.2" y2="436.0" stroke="#45b9ea" stroke-width="1.2"/>
<polyline points="28.2,441.4 50,441.2 55,440.3 58.5,437 64.6,427.2 69,433 75.2,440.6 80,441.0 112.8,441.5" fill="none" stroke="#2f439b" stroke-width="1.2"/>
<line x1="30.0" y1="458.5" x2="113.0" y2="458.5" stroke="#45b9ea" stroke-width="1.3"/>
<line x1="30.0" y1="469.1" x2="113.0" y2="469.1" stroke="#2f439b" stroke-width="1.3"/>
<polyline points="30.10,458.70 30.60,457.94 32.40,457.94 32.40,459.65 34.20,459.65 34.20,457.38 36.00,457.38 36.00,460.59 37.80,460.59 37.80,456.02 39.60,456.02 39.60,462.27 41.40,462.27 41.40,454.31 43.20,454.31 43.20,463.61 45.00,463.61 45.00,453.74 46.80,453.74 46.80,463.24 48.60,463.24 48.60,454.93 50.40,454.93 50.40,461.57 52.20,461.57 52.20,456.65 54.00,456.65 54.00,460.13 55.80,460.13 55.80,457.68 57.60,457.68 57.60,459.49 59.40,459.49 59.40,458.02 61.20,458.02 61.20,458.70" fill="none" stroke="#45b9ea" stroke-width="1.2" stroke-linejoin="miter"/>
<polyline points="54.10,469.10 54.60,468.56 56.10,468.56 56.10,469.84 57.60,469.84 57.60,467.73 59.10,467.73 59.10,471.64 60.60,471.64 60.60,465.53 62.10,465.53 62.10,472.58 63.60,472.58 63.60,466.73 65.10,466.73 65.10,470.35 66.60,470.35 66.60,466.28 68.10,466.28 68.10,472.76 69.60,472.76 69.60,466.90 71.10,466.90 71.10,469.96 72.60,469.96 72.60,469.10" fill="none" stroke="#2f439b" stroke-width="1.4" stroke-linejoin="miter"/>
<line x1="75.4" y1="420.8" x2="75.4" y2="475.6" stroke="#555" stroke-width="0.7" stroke-dasharray="1 1"/>
<polyline points="111.8,441.4 115.1,441.0 117.6,438 123.89999999999999,427.8 127.39999999999999,427.8 130.6,431 135.6,437 139.6,440.2 145.6,441.0 163.6,441.2 194.1,441.4" fill="none" stroke="#45b9ea" stroke-width="1.2"/>
<line x1="192.0" y1="441.4" x2="194.8" y2="436.0" stroke="#45b9ea" stroke-width="1.2"/>
<polyline points="111.8,441.4 133.6,441.2 138.6,440.3 142.1,437 148.2,427.2 152.6,433 158.8,440.6 163.6,441.0 196.39999999999998,441.5" fill="none" stroke="#2f439b" stroke-width="1.2"/>
<line x1="113.6" y1="458.5" x2="196.6" y2="458.5" stroke="#45b9ea" stroke-width="1.3"/>
<line x1="113.6" y1="469.1" x2="196.6" y2="469.1" stroke="#2f439b" stroke-width="1.3"/>
<polyline points="113.70,458.70 114.20,457.94 116.00,457.94 116.00,459.65 117.80,459.65 117.80,457.38 119.60,457.38 119.60,460.59 121.40,460.59 121.40,456.02 123.20,456.02 123.20,462.27 125.00,462.27 125.00,454.31 126.80,454.31 126.80,463.61 128.60,463.61 128.60,453.74 130.40,453.74 130.40,463.24 132.20,463.24 132.20,454.93 134.00,454.93 134.00,461.57 135.80,461.57 135.80,456.65 137.60,456.65 137.60,460.13 139.40,460.13 139.40,457.68 141.20,457.68 141.20,459.49 143.00,459.49 143.00,458.02 144.80,458.02 144.80,458.70" fill="none" stroke="#45b9ea" stroke-width="1.2" stroke-linejoin="miter"/>
<polyline points="137.70,469.10 138.20,468.56 139.70,468.56 139.70,469.84 141.20,469.84 141.20,467.73 142.70,467.73 142.70,471.64 144.20,471.64 144.20,465.53 145.70,465.53 145.70,472.58 147.20,472.58 147.20,466.73 148.70,466.73 148.70,470.35 150.20,470.35 150.20,466.28 151.70,466.28 151.70,472.76 153.20,472.76 153.20,466.90 154.70,466.90 154.70,469.96 156.20,469.96 156.20,469.10" fill="none" stroke="#2f439b" stroke-width="1.4" stroke-linejoin="miter"/>
<line x1="158.4" y1="420.8" x2="158.4" y2="475.6" stroke="#555" stroke-width="0.7" stroke-dasharray="1 1"/>
<text x="311.4" y="243.1" font-size="12.90" fill="#242424" textLength="96.2" lengthAdjust="spacingAndGlyphs" >Walking Cadence</text>
<text x="492.9" y="240.4" font-size="10.19" fill="#242424" textLength="184.6" lengthAdjust="spacingAndGlyphs" >Note: Significant overall reduction p&lt;0.001</text>
<text x="492.9" y="252.1" font-size="10.19" fill="#242424" textLength="127.2" lengthAdjust="spacingAndGlyphs" >(ANOVA repeated meaasures)</text>
<line x1="265.8" y1="256.2" x2="265.8" y2="376.8" stroke="#6d6d6d" stroke-width="0.9" />
<line x1="265.8" y1="376.4" x2="683.5" y2="376.4" stroke="#6d6d6d" stroke-width="0.9" />
<text x="264.0" y="380.0" font-size="11.02" fill="#242424" text-anchor="end" textLength="9.5" lengthAdjust="spacingAndGlyphs" >20</text>
<line x1="265.8" y1="352.5" x2="269.6" y2="352.5" stroke="#6d6d6d" stroke-width="0.8" />
<text x="264.0" y="356.0" font-size="11.02" fill="#242424" text-anchor="end" textLength="9.5" lengthAdjust="spacingAndGlyphs" >30</text>
<line x1="265.8" y1="328.5" x2="269.6" y2="328.5" stroke="#6d6d6d" stroke-width="0.8" />
<text x="264.0" y="332.0" font-size="11.02" fill="#242424" text-anchor="end" textLength="9.5" lengthAdjust="spacingAndGlyphs" >40</text>
<line x1="265.8" y1="304.5" x2="269.6" y2="304.5" stroke="#6d6d6d" stroke-width="0.8" />
<text x="264.0" y="308.0" font-size="11.02" fill="#242424" text-anchor="end" textLength="9.5" lengthAdjust="spacingAndGlyphs" >50</text>
<line x1="265.8" y1="280.5" x2="269.6" y2="280.5" stroke="#6d6d6d" stroke-width="0.8" />
<text x="264.0" y="284.0" font-size="11.02" fill="#242424" text-anchor="end" textLength="9.5" lengthAdjust="spacingAndGlyphs" >60</text>
<line x1="265.8" y1="256.5" x2="269.6" y2="256.5" stroke="#6d6d6d" stroke-width="0.8" />
<text x="264.0" y="260.0" font-size="11.02" fill="#242424" text-anchor="end" textLength="9.5" lengthAdjust="spacingAndGlyphs" >70</text>
<line x1="281.0" y1="376.4" x2="281.0" y2="372.2" stroke="#6d6d6d" stroke-width="0.8" />
<text x="281.0" y="386.9" font-size="10.19" fill="#242424" text-anchor="middle" textLength="9.2" lengthAdjust="spacingAndGlyphs" >S1</text>
<line x1="312.3" y1="376.4" x2="312.3" y2="372.2" stroke="#6d6d6d" stroke-width="0.8" />
<text x="312.3" y="386.9" font-size="10.19" fill="#242424" text-anchor="middle" textLength="9.2" lengthAdjust="spacingAndGlyphs" >S2</text>
<line x1="343.7" y1="376.4" x2="343.7" y2="372.2" stroke="#6d6d6d" stroke-width="0.8" />
<text x="343.7" y="386.9" font-size="10.19" fill="#242424" text-anchor="middle" textLength="9.2" lengthAdjust="spacingAndGlyphs" >S3</text>
<line x1="375.4" y1="376.4" x2="375.4" y2="372.2" stroke="#6d6d6d" stroke-width="0.8" />
<text x="375.4" y="386.9" font-size="10.19" fill="#242424" text-anchor="middle" textLength="9.2" lengthAdjust="spacingAndGlyphs" >S4</text>
<line x1="406.7" y1="376.4" x2="406.7" y2="372.2" stroke="#6d6d6d" stroke-width="0.8" />
<text x="406.7" y="386.9" font-size="10.19" fill="#242424" text-anchor="middle" textLength="9.2" lengthAdjust="spacingAndGlyphs" >S5</text>
<line x1="438.3" y1="376.4" x2="438.3" y2="372.2" stroke="#6d6d6d" stroke-width="0.8" />
<text x="438.3" y="386.9" font-size="10.19" fill="#242424" text-anchor="middle" textLength="9.2" lengthAdjust="spacingAndGlyphs" >S6</text>
<line x1="469.6" y1="376.4" x2="469.6" y2="372.2" stroke="#6d6d6d" stroke-width="0.8" />
<text x="469.6" y="386.9" font-size="10.19" fill="#242424" text-anchor="middle" textLength="9.2" lengthAdjust="spacingAndGlyphs" >S7</text>
<line x1="501.5" y1="376.4" x2="501.5" y2="372.2" stroke="#6d6d6d" stroke-width="0.8" />
<text x="501.5" y="386.9" font-size="10.19" fill="#242424" text-anchor="middle" textLength="9.2" lengthAdjust="spacingAndGlyphs" >S8</text>
<line x1="532.6" y1="376.4" x2="532.6" y2="372.2" stroke="#6d6d6d" stroke-width="0.8" />
<text x="532.6" y="386.9" font-size="10.19" fill="#242424" text-anchor="middle" textLength="9.2" lengthAdjust="spacingAndGlyphs" >S9</text>
<line x1="564.1" y1="376.4" x2="564.1" y2="372.2" stroke="#6d6d6d" stroke-width="0.8" />
<text x="564.1" y="386.9" font-size="10.19" fill="#242424" text-anchor="middle" textLength="12.8" lengthAdjust="spacingAndGlyphs" >S10</text>
<line x1="595.6" y1="376.4" x2="595.6" y2="372.2" stroke="#6d6d6d" stroke-width="0.8" />
<text x="595.6" y="386.9" font-size="10.19" fill="#242424" text-anchor="middle" textLength="12.8" lengthAdjust="spacingAndGlyphs" >S11</text>
<line x1="627.0" y1="376.4" x2="627.0" y2="372.2" stroke="#6d6d6d" stroke-width="0.8" />
<text x="627.0" y="386.9" font-size="10.19" fill="#242424" text-anchor="middle" textLength="12.8" lengthAdjust="spacingAndGlyphs" >S13</text>
<line x1="658.5" y1="376.4" x2="658.5" y2="372.2" stroke="#6d6d6d" stroke-width="0.8" />
<text x="658.5" y="386.9" font-size="10.19" fill="#242424" text-anchor="middle" textLength="12.8" lengthAdjust="spacingAndGlyphs" >S14</text>
<text x="234.3" y="333.6" font-size="11.02" fill="#242424" textLength="38.8" lengthAdjust="spacingAndGlyphs" transform="rotate(-90 234.3 333.6)" >Cadence</text>
<text x="246.2" y="350.9" font-size="11.02" fill="#242424" textLength="73.4" lengthAdjust="spacingAndGlyphs" transform="rotate(-90 246.2 350.9)" >Steps per minute</text>
<line x1="277.7" y1="312.2" x2="277.7" y2="332.4" stroke="#4dbb5a" stroke-width="1" />
<line x1="274.5" y1="312.2" x2="280.9" y2="312.2" stroke="#4dbb5a" stroke-width="1" />
<line x1="274.5" y1="332.4" x2="280.9" y2="332.4" stroke="#4dbb5a" stroke-width="1" />
<rect x="271.09999999999997" y="318.9" width="13.2" height="7.900000000000034" fill="#3db54a" />
<rect x="271.09999999999997" y="323.95" width="13.2" height="1.1" fill="#ffffff" />
<line x1="291.85" y1="304.0" x2="291.85" y2="328.2" stroke="#4a63ad" stroke-width="1" />
<line x1="288.65000000000003" y1="304.0" x2="295.05" y2="304.0" stroke="#4a63ad" stroke-width="1" />
<line x1="288.65000000000003" y1="328.2" x2="295.05" y2="328.2" stroke="#4a63ad" stroke-width="1" />
<rect x="285.25" y="314.2" width="13.2" height="7.300000000000011" fill="#3050a0" />
<rect x="285.25" y="317.45" width="13.2" height="1.1" fill="#ffffff" />
<line x1="306.3" y1="344.8" x2="306.3" y2="361.3" stroke="#4dbb5a" stroke-width="1" />
<line x1="303.1" y1="344.8" x2="309.5" y2="344.8" stroke="#4dbb5a" stroke-width="1" />
<line x1="303.1" y1="361.3" x2="309.5" y2="361.3" stroke="#4dbb5a" stroke-width="1" />
<rect x="299.7" y="352.2" width="13.2" height="5.600000000000023" fill="#3db54a" />
<rect x="299.7" y="354.65" width="13.2" height="1.1" fill="#ffffff" />
<line x1="320.65" y1="348.3" x2="320.65" y2="364.5" stroke="#4a63ad" stroke-width="1" />
<line x1="317.45" y1="348.3" x2="323.84999999999997" y2="348.3" stroke="#4a63ad" stroke-width="1" />
<line x1="317.45" y1="364.5" x2="323.84999999999997" y2="364.5" stroke="#4a63ad" stroke-width="1" />
<rect x="314.04999999999995" y="354.8" width="13.2" height="5.599999999999966" fill="#3050a0" />
<rect x="314.04999999999995" y="356.84999999999997" width="13.2" height="1.1" fill="#ffffff" />
<line x1="336.4" y1="302.2" x2="336.4" y2="323.3" stroke="#4dbb5a" stroke-width="1" />
<line x1="333.2" y1="302.2" x2="339.59999999999997" y2="302.2" stroke="#4dbb5a" stroke-width="1" />
<line x1="333.2" y1="323.3" x2="339.59999999999997" y2="323.3" stroke="#4dbb5a" stroke-width="1" />
<rect x="329.79999999999995" y="304.2" width="13.2" height="8.300000000000011" fill="#3db54a" />
<rect x="329.79999999999995" y="306.05" width="13.2" height="1.1" fill="#ffffff" />
<line x1="350.75" y1="301.3" x2="350.75" y2="320.5" stroke="#4a63ad" stroke-width="1" />
<line x1="347.55" y1="301.3" x2="353.95" y2="301.3" stroke="#4a63ad" stroke-width="1" />
<line x1="347.55" y1="320.5" x2="353.95" y2="320.5" stroke="#4a63ad" stroke-width="1" />
<rect x="344.15" y="306.1" width="13.2" height="7.599999999999966" fill="#3050a0" />
<rect x="344.15" y="308.65" width="13.2" height="1.1" fill="#ffffff" />
<line x1="369.75" y1="296.4" x2="369.75" y2="321.9" stroke="#4dbb5a" stroke-width="1" />
<line x1="366.55" y1="296.4" x2="372.95" y2="296.4" stroke="#4dbb5a" stroke-width="1" />
<line x1="366.55" y1="321.9" x2="372.95" y2="321.9" stroke="#4dbb5a" stroke-width="1" />
<rect x="363.15" y="300.4" width="13.2" height="11.5" fill="#3db54a" />
<rect x="363.15" y="303.75" width="13.2" height="1.1" fill="#ffffff" />
<line x1="384.5" y1="305.6" x2="384.5" y2="340.6" stroke="#4a63ad" stroke-width="1" />
<line x1="381.3" y1="305.6" x2="387.7" y2="305.6" stroke="#4a63ad" stroke-width="1" />
<line x1="381.3" y1="340.6" x2="387.7" y2="340.6" stroke="#4a63ad" stroke-width="1" />
<rect x="377.9" y="311.4" width="13.2" height="13.5" fill="#3050a0" />
<rect x="377.9" y="316.45" width="13.2" height="1.1" fill="#ffffff" />
<line x1="402.3" y1="302.4" x2="402.3" y2="317.5" stroke="#4dbb5a" stroke-width="1" />
<line x1="399.1" y1="302.4" x2="405.5" y2="302.4" stroke="#4dbb5a" stroke-width="1" />
<line x1="399.1" y1="317.5" x2="405.5" y2="317.5" stroke="#4dbb5a" stroke-width="1" />
<rect x="395.7" y="307.0" width="13.2" height="5.5" fill="#3db54a" />
<rect x="395.7" y="308.84999999999997" width="13.2" height="1.1" fill="#ffffff" />
<line x1="416.8" y1="310.5" x2="416.8" y2="329.4" stroke="#4a63ad" stroke-width="1" />
<line x1="413.6" y1="310.5" x2="420.0" y2="310.5" stroke="#4a63ad" stroke-width="1" />
<line x1="413.6" y1="329.4" x2="420.0" y2="329.4" stroke="#4a63ad" stroke-width="1" />
<rect x="410.2" y="317.5" width="13.2" height="5.300000000000011" fill="#3050a0" />
<rect x="410.2" y="319.55" width="13.2" height="1.1" fill="#ffffff" />
<line x1="435.65" y1="286.4" x2="435.65" y2="296.4" stroke="#4dbb5a" stroke-width="1" />
<line x1="432.45" y1="286.4" x2="438.84999999999997" y2="286.4" stroke="#4dbb5a" stroke-width="1" />
<line x1="432.45" y1="296.4" x2="438.84999999999997" y2="296.4" stroke="#4dbb5a" stroke-width="1" />
<rect x="429.04999999999995" y="288.7" width="13.2" height="5.300000000000011" fill="#3db54a" />
<rect x="429.04999999999995" y="290.75" width="13.2" height="1.1" fill="#ffffff" />
<line x1="448.9" y1="260.7" x2="448.9" y2="270.7" stroke="#4a63ad" stroke-width="1" />
<line x1="445.7" y1="260.7" x2="452.09999999999997" y2="260.7" stroke="#4a63ad" stroke-width="1" />
<line x1="445.7" y1="270.7" x2="452.09999999999997" y2="270.7" stroke="#4a63ad" stroke-width="1" />
<rect x="442.29999999999995" y="264.0" width="13.2" height="5.800000000000011" fill="#3050a0" />
<rect x="442.29999999999995" y="266.65" width="13.2" height="1.1" fill="#ffffff" />
<line x1="464.7" y1="297.8" x2="464.7" y2="308.3" stroke="#4dbb5a" stroke-width="1" />
<line x1="461.5" y1="297.8" x2="467.9" y2="297.8" stroke="#4dbb5a" stroke-width="1" />
<line x1="461.5" y1="308.3" x2="467.9" y2="308.3" stroke="#4dbb5a" stroke-width="1" />
<rect x="458.09999999999997" y="298.7" width="13.2" height="5.800000000000011" fill="#3db54a" />
<rect x="458.09999999999997" y="301.15" width="13.2" height="1.1" fill="#ffffff" />
<line x1="479.0" y1="298.7" x2="479.0" y2="314.9" stroke="#4a63ad" stroke-width="1" />
<line x1="475.8" y1="298.7" x2="482.2" y2="298.7" stroke="#4a63ad" stroke-width="1" />
<line x1="475.8" y1="314.9" x2="482.2" y2="314.9" stroke="#4a63ad" stroke-width="1" />
<rect x="472.4" y="304.0" width="13.2" height="6.5" fill="#3050a0" />
<rect x="472.4" y="306.34999999999997" width="13.2" height="1.1" fill="#ffffff" />
<line x1="496.85" y1="293.4" x2="496.85" y2="304.7" stroke="#4dbb5a" stroke-width="1" />
<line x1="493.65000000000003" y1="293.4" x2="500.05" y2="293.4" stroke="#4dbb5a" stroke-width="1" />
<line x1="493.65000000000003" y1="304.7" x2="500.05" y2="304.7" stroke="#4dbb5a" stroke-width="1" />
<rect x="490.25" y="295.2" width="13.2" height="9.5" fill="#3db54a" />
<rect x="490.25" y="296.45" width="13.2" height="1.1" fill="#ffffff" />
<line x1="511.2" y1="298.2" x2="511.2" y2="322.4" stroke="#4a63ad" stroke-width="1" />
<line x1="508.0" y1="298.2" x2="514.4" y2="298.2" stroke="#4a63ad" stroke-width="1" />
<line x1="508.0" y1="322.4" x2="514.4" y2="322.4" stroke="#4a63ad" stroke-width="1" />
<rect x="504.59999999999997" y="306.0" width="13.2" height="11.0" fill="#3050a0" />
<rect x="504.59999999999997" y="307.95" width="13.2" height="1.1" fill="#ffffff" />
<line x1="528.95" y1="283.4" x2="528.95" y2="298.3" stroke="#4dbb5a" stroke-width="1" />
<line x1="525.75" y1="283.4" x2="532.1500000000001" y2="283.4" stroke="#4dbb5a" stroke-width="1" />
<line x1="525.75" y1="298.3" x2="532.1500000000001" y2="298.3" stroke="#4dbb5a" stroke-width="1" />
<rect x="522.35" y="286.1" width="13.2" height="5.899999999999977" fill="#3db54a" />
<rect x="522.35" y="288.45" width="13.2" height="1.1" fill="#ffffff" />
<line x1="543.55" y1="288.2" x2="543.55" y2="308.3" stroke="#4a63ad" stroke-width="1" />
<line x1="540.3499999999999" y1="288.2" x2="546.75" y2="288.2" stroke="#4a63ad" stroke-width="1" />
<line x1="540.3499999999999" y1="308.3" x2="546.75" y2="308.3" stroke="#4a63ad" stroke-width="1" />
<rect x="536.9499999999999" y="293.1" width="13.2" height="7.699999999999989" fill="#3050a0" />
<rect x="536.9499999999999" y="296.45" width="13.2" height="1.1" fill="#ffffff" />
<line x1="560.45" y1="298.5" x2="560.45" y2="324.3" stroke="#4dbb5a" stroke-width="1" />
<line x1="557.25" y1="298.5" x2="563.6500000000001" y2="298.5" stroke="#4dbb5a" stroke-width="1" />
<line x1="557.25" y1="324.3" x2="563.6500000000001" y2="324.3" stroke="#4dbb5a" stroke-width="1" />
<rect x="553.85" y="310.1" width="13.2" height="8.5" fill="#3db54a" />
<rect x="553.85" y="313.75" width="13.2" height="1.1" fill="#ffffff" />
<line x1="574.75" y1="315.0" x2="574.75" y2="336.1" stroke="#4a63ad" stroke-width="1" />
<line x1="571.55" y1="315.0" x2="577.95" y2="315.0" stroke="#4a63ad" stroke-width="1" />
<line x1="571.55" y1="336.1" x2="577.95" y2="336.1" stroke="#4a63ad" stroke-width="1" />
<rect x="568.15" y="322.8" width="13.2" height="7.800000000000011" fill="#3050a0" />
<rect x="568.15" y="326.45" width="13.2" height="1.1" fill="#ffffff" />
<line x1="591.6" y1="291.3" x2="591.6" y2="310.4" stroke="#4dbb5a" stroke-width="1" />
<line x1="588.4" y1="291.3" x2="594.8000000000001" y2="291.3" stroke="#4dbb5a" stroke-width="1" />
<line x1="588.4" y1="310.4" x2="594.8000000000001" y2="310.4" stroke="#4dbb5a" stroke-width="1" />
<rect x="585.0" y="293.4" width="13.2" height="7.400000000000034" fill="#3db54a" />
<rect x="585.0" y="295.45" width="13.2" height="1.1" fill="#ffffff" />
<line x1="605.85" y1="286.4" x2="605.85" y2="313.0" stroke="#4a63ad" stroke-width="1" />
<line x1="602.65" y1="286.4" x2="609.0500000000001" y2="286.4" stroke="#4a63ad" stroke-width="1" />
<line x1="602.65" y1="313.0" x2="609.0500000000001" y2="313.0" stroke="#4a63ad" stroke-width="1" />
<rect x="599.25" y="297.8" width="13.2" height="8.199999999999989" fill="#3050a0" />
<rect x="599.25" y="300.75" width="13.2" height="1.1" fill="#ffffff" />
<line x1="622.55" y1="304.4" x2="622.55" y2="318.7" stroke="#4dbb5a" stroke-width="1" />
<line x1="619.3499999999999" y1="304.4" x2="625.75" y2="304.4" stroke="#4dbb5a" stroke-width="1" />
<line x1="619.3499999999999" y1="318.7" x2="625.75" y2="318.7" stroke="#4dbb5a" stroke-width="1" />
<rect x="615.9499999999999" y="306.4" width="13.2" height="6.5" fill="#3db54a" />
<rect x="615.9499999999999" y="309.55" width="13.2" height="1.1" fill="#ffffff" />
<line x1="635.9" y1="283.7" x2="635.9" y2="308.6" stroke="#4a63ad" stroke-width="1" />
<line x1="632.6999999999999" y1="283.7" x2="639.1" y2="283.7" stroke="#4a63ad" stroke-width="1" />
<line x1="632.6999999999999" y1="308.6" x2="639.1" y2="308.6" stroke="#4a63ad" stroke-width="1" />
<rect x="629.3" y="291.0" width="13.2" height="8.899999999999977" fill="#3050a0" />
<rect x="629.3" y="293.84999999999997" width="13.2" height="1.1" fill="#ffffff" />
<line x1="653.75" y1="280.4" x2="653.75" y2="298.4" stroke="#4dbb5a" stroke-width="1" />
<line x1="650.55" y1="280.4" x2="656.95" y2="280.4" stroke="#4dbb5a" stroke-width="1" />
<line x1="650.55" y1="298.4" x2="656.95" y2="298.4" stroke="#4dbb5a" stroke-width="1" />
<rect x="647.15" y="285.4" width="13.2" height="6.400000000000034" fill="#3db54a" />
<rect x="647.15" y="288.15" width="13.2" height="1.1" fill="#ffffff" />
<line x1="668.1" y1="285.5" x2="668.1" y2="299.3" stroke="#4a63ad" stroke-width="1" />
<line x1="664.9" y1="285.5" x2="671.3000000000001" y2="285.5" stroke="#4a63ad" stroke-width="1" />
<line x1="664.9" y1="299.3" x2="671.3000000000001" y2="299.3" stroke="#4a63ad" stroke-width="1" />
<rect x="661.5" y="286.8" width="13.2" height="7.899999999999977" fill="#3050a0" />
<rect x="661.5" y="288.95" width="13.2" height="1.1" fill="#ffffff" />
<rect x="276.6" y="254.7" width="37.1" height="32.5" fill="#fff" stroke="#8a8a8a" stroke-width="0.7"/>
<rect x="282.2" y="258.0" width="10.9" height="10.9" fill="#3db54a" />
<rect x="282.2" y="271.2" width="10.9" height="10.8" fill="#3050a0" />
<text x="298.4" y="268.6" font-size="10.40" fill="#242424" textLength="11.8" lengthAdjust="spacingAndGlyphs" >NF</text>
<text x="298.4" y="280.3" font-size="10.40" fill="#242424" textLength="10.4" lengthAdjust="spacingAndGlyphs" >SF</text>
<line x1="369.10" y1="277.40" x2="374.10" y2="277.40" stroke="#555" stroke-width="0.9"/>
<line x1="370.35" y1="275.23" x2="372.85" y2="279.57" stroke="#555" stroke-width="0.9"/>
<line x1="372.85" y1="275.23" x2="370.35" y2="279.57" stroke="#555" stroke-width="0.9"/>
<line x1="374.70" y1="277.40" x2="379.70" y2="277.40" stroke="#555" stroke-width="0.9"/>
<line x1="375.95" y1="275.23" x2="378.45" y2="279.57" stroke="#555" stroke-width="0.9"/>
<line x1="378.45" y1="275.23" x2="375.95" y2="279.57" stroke="#555" stroke-width="0.9"/>
<line x1="380.30" y1="277.40" x2="385.30" y2="277.40" stroke="#555" stroke-width="0.9"/>
<line x1="381.55" y1="275.23" x2="384.05" y2="279.57" stroke="#555" stroke-width="0.9"/>
<line x1="384.05" y1="275.23" x2="381.55" y2="279.57" stroke="#555" stroke-width="0.9"/>
<line x1="369.5" y1="283.5" x2="385.0" y2="283.5" stroke="#9a9a9a" stroke-width="0.8" />
<line x1="401.40" y1="284.20" x2="406.40" y2="284.20" stroke="#555" stroke-width="0.9"/>
<line x1="402.65" y1="282.03" x2="405.15" y2="286.37" stroke="#555" stroke-width="0.9"/>
<line x1="405.15" y1="282.03" x2="402.65" y2="286.37" stroke="#555" stroke-width="0.9"/>
<line x1="407.00" y1="284.20" x2="412.00" y2="284.20" stroke="#555" stroke-width="0.9"/>
<line x1="408.25" y1="282.03" x2="410.75" y2="286.37" stroke="#555" stroke-width="0.9"/>
<line x1="410.75" y1="282.03" x2="408.25" y2="286.37" stroke="#555" stroke-width="0.9"/>
<line x1="412.60" y1="284.20" x2="417.60" y2="284.20" stroke="#555" stroke-width="0.9"/>
<line x1="413.85" y1="282.03" x2="416.35" y2="286.37" stroke="#555" stroke-width="0.9"/>
<line x1="416.35" y1="282.03" x2="413.85" y2="286.37" stroke="#555" stroke-width="0.9"/>
<polyline points="401.2,291.3 401.2,289.3 416.7,289.3 416.7,291.3" fill="none" stroke="#9a9a9a" stroke-width="0.8"/>
<line x1="434.50" y1="249.70" x2="439.50" y2="249.70" stroke="#b5b5b5" stroke-width="0.9"/>
<line x1="435.75" y1="247.53" x2="438.25" y2="251.87" stroke="#b5b5b5" stroke-width="0.9"/>
<line x1="438.25" y1="247.53" x2="435.75" y2="251.87" stroke="#b5b5b5" stroke-width="0.9"/>
<line x1="440.10" y1="249.70" x2="445.10" y2="249.70" stroke="#b5b5b5" stroke-width="0.9"/>
<line x1="441.35" y1="247.53" x2="443.85" y2="251.87" stroke="#b5b5b5" stroke-width="0.9"/>
<line x1="443.85" y1="247.53" x2="441.35" y2="251.87" stroke="#b5b5b5" stroke-width="0.9"/>
<line x1="445.70" y1="249.70" x2="450.70" y2="249.70" stroke="#b5b5b5" stroke-width="0.9"/>
<line x1="446.95" y1="247.53" x2="449.45" y2="251.87" stroke="#b5b5b5" stroke-width="0.9"/>
<line x1="449.45" y1="247.53" x2="446.95" y2="251.87" stroke="#b5b5b5" stroke-width="0.9"/>
<polyline points="435.4,256.5 435.4,254.5 448.9,254.5 448.9,256.5" fill="none" stroke="#c8c8c8" stroke-width="0.8"/>
<line x1="464.90" y1="278.50" x2="469.90" y2="278.50" stroke="#555" stroke-width="0.9"/>
<line x1="466.15" y1="276.33" x2="468.65" y2="280.67" stroke="#555" stroke-width="0.9"/>
<line x1="468.65" y1="276.33" x2="466.15" y2="280.67" stroke="#555" stroke-width="0.9"/>
<line x1="470.50" y1="278.50" x2="475.50" y2="278.50" stroke="#555" stroke-width="0.9"/>
<line x1="471.75" y1="276.33" x2="474.25" y2="280.67" stroke="#555" stroke-width="0.9"/>
<line x1="474.25" y1="276.33" x2="471.75" y2="280.67" stroke="#555" stroke-width="0.9"/>
<line x1="476.10" y1="278.50" x2="481.10" y2="278.50" stroke="#555" stroke-width="0.9"/>
<line x1="477.35" y1="276.33" x2="479.85" y2="280.67" stroke="#555" stroke-width="0.9"/>
<line x1="479.85" y1="276.33" x2="477.35" y2="280.67" stroke="#555" stroke-width="0.9"/>
<line x1="464.7" y1="283.8" x2="479.0" y2="283.8" stroke="#9a9a9a" stroke-width="0.8" />
<line x1="495.80" y1="272.00" x2="500.80" y2="272.00" stroke="#555" stroke-width="0.9"/>
<line x1="497.05" y1="269.83" x2="499.55" y2="274.17" stroke="#555" stroke-width="0.9"/>
<line x1="499.55" y1="269.83" x2="497.05" y2="274.17" stroke="#555" stroke-width="0.9"/>
<line x1="501.40" y1="272.00" x2="506.40" y2="272.00" stroke="#555" stroke-width="0.9"/>
<line x1="502.65" y1="269.83" x2="505.15" y2="274.17" stroke="#555" stroke-width="0.9"/>
<line x1="505.15" y1="269.83" x2="502.65" y2="274.17" stroke="#555" stroke-width="0.9"/>
<line x1="507.00" y1="272.00" x2="512.00" y2="272.00" stroke="#555" stroke-width="0.9"/>
<line x1="508.25" y1="269.83" x2="510.75" y2="274.17" stroke="#555" stroke-width="0.9"/>
<line x1="510.75" y1="269.83" x2="508.25" y2="274.17" stroke="#555" stroke-width="0.9"/>
<polyline points="496.9,279.7 496.9,277.7 511.2,277.7 511.2,279.7" fill="none" stroke="#9a9a9a" stroke-width="0.8"/>
<line x1="528.10" y1="261.30" x2="533.10" y2="261.30" stroke="#555" stroke-width="0.9"/>
<line x1="529.35" y1="259.13" x2="531.85" y2="263.47" stroke="#555" stroke-width="0.9"/>
<line x1="531.85" y1="259.13" x2="529.35" y2="263.47" stroke="#555" stroke-width="0.9"/>
<line x1="533.70" y1="261.30" x2="538.70" y2="261.30" stroke="#555" stroke-width="0.9"/>
<line x1="534.95" y1="259.13" x2="537.45" y2="263.47" stroke="#555" stroke-width="0.9"/>
<line x1="537.45" y1="259.13" x2="534.95" y2="263.47" stroke="#555" stroke-width="0.9"/>
<line x1="539.30" y1="261.30" x2="544.30" y2="261.30" stroke="#555" stroke-width="0.9"/>
<line x1="540.55" y1="259.13" x2="543.05" y2="263.47" stroke="#555" stroke-width="0.9"/>
<line x1="543.05" y1="259.13" x2="540.55" y2="263.47" stroke="#555" stroke-width="0.9"/>
<line x1="529.1" y1="267.2" x2="543.7" y2="267.2" stroke="#9a9a9a" stroke-width="0.8" />
<line x1="559.60" y1="276.00" x2="564.60" y2="276.00" stroke="#555" stroke-width="0.9"/>
<line x1="560.85" y1="273.83" x2="563.35" y2="278.17" stroke="#555" stroke-width="0.9"/>
<line x1="563.35" y1="273.83" x2="560.85" y2="278.17" stroke="#555" stroke-width="0.9"/>
<line x1="565.20" y1="276.00" x2="570.20" y2="276.00" stroke="#555" stroke-width="0.9"/>
<line x1="566.45" y1="273.83" x2="568.95" y2="278.17" stroke="#555" stroke-width="0.9"/>
<line x1="568.95" y1="273.83" x2="566.45" y2="278.17" stroke="#555" stroke-width="0.9"/>
<line x1="570.80" y1="276.00" x2="575.80" y2="276.00" stroke="#555" stroke-width="0.9"/>
<line x1="572.05" y1="273.83" x2="574.55" y2="278.17" stroke="#555" stroke-width="0.9"/>
<line x1="574.55" y1="273.83" x2="572.05" y2="278.17" stroke="#555" stroke-width="0.9"/>
<polyline points="560.3,283.2 560.3,281.2 574.7,281.2 574.7,283.2" fill="none" stroke="#9a9a9a" stroke-width="0.8"/>
<line x1="590.40" y1="262.70" x2="595.40" y2="262.70" stroke="#555" stroke-width="0.9"/>
<line x1="591.65" y1="260.53" x2="594.15" y2="264.87" stroke="#555" stroke-width="0.9"/>
<line x1="594.15" y1="260.53" x2="591.65" y2="264.87" stroke="#555" stroke-width="0.9"/>
<line x1="596.00" y1="262.70" x2="601.00" y2="262.70" stroke="#555" stroke-width="0.9"/>
<line x1="597.25" y1="260.53" x2="599.75" y2="264.87" stroke="#555" stroke-width="0.9"/>
<line x1="599.75" y1="260.53" x2="597.25" y2="264.87" stroke="#555" stroke-width="0.9"/>
<line x1="601.60" y1="262.70" x2="606.60" y2="262.70" stroke="#555" stroke-width="0.9"/>
<line x1="602.85" y1="260.53" x2="605.35" y2="264.87" stroke="#555" stroke-width="0.9"/>
<line x1="605.35" y1="260.53" x2="602.85" y2="264.87" stroke="#555" stroke-width="0.9"/>
<polyline points="591.5,268.6 591.5,266.6 605.8,266.6 605.8,268.6" fill="none" stroke="#9a9a9a" stroke-width="0.8"/>
<line x1="621.00" y1="271.40" x2="626.00" y2="271.40" stroke="#b5b5b5" stroke-width="0.9"/>
<line x1="622.25" y1="269.23" x2="624.75" y2="273.57" stroke="#b5b5b5" stroke-width="0.9"/>
<line x1="624.75" y1="269.23" x2="622.25" y2="273.57" stroke="#b5b5b5" stroke-width="0.9"/>
<line x1="626.60" y1="271.40" x2="631.60" y2="271.40" stroke="#b5b5b5" stroke-width="0.9"/>
<line x1="627.85" y1="269.23" x2="630.35" y2="273.57" stroke="#b5b5b5" stroke-width="0.9"/>
<line x1="630.35" y1="269.23" x2="627.85" y2="273.57" stroke="#b5b5b5" stroke-width="0.9"/>
<line x1="632.20" y1="271.40" x2="637.20" y2="271.40" stroke="#b5b5b5" stroke-width="0.9"/>
<line x1="633.45" y1="269.23" x2="635.95" y2="273.57" stroke="#b5b5b5" stroke-width="0.9"/>
<line x1="635.95" y1="269.23" x2="633.45" y2="273.57" stroke="#b5b5b5" stroke-width="0.9"/>
<polyline points="622.3,279.0 622.3,277.0 635.7,277.0 635.7,279.0" fill="none" stroke="#c8c8c8" stroke-width="0.8"/>
<rect x="272.0" y="433.6" width="25.0" height="5.699999999999989" fill="#a8c4e8" />
<rect x="302.9" y="439.3" width="25.600000000000023" height="3.3999999999999773" fill="#a8c4e8" />
<rect x="334.7" y="439.3" width="25.0" height="1.3999999999999773" fill="#a8c4e8" />
<rect x="366.3" y="439.3" width="24.899999999999977" height="12.5" fill="#a8c4e8" />
<rect x="397.8" y="439.3" width="24.69999999999999" height="10.599999999999966" fill="#a8c4e8" />
<rect x="429.1" y="415.0" width="24.899999999999977" height="24.30000000000001" fill="#a8c4e8" />
<rect x="460.8" y="439.3" width="25.0" height="4.099999999999966" fill="#a8c4e8" />
<rect x="492.1" y="439.3" width="24.899999999999977" height="10.699999999999989" fill="#a8c4e8" />
<rect x="523.5" y="439.3" width="25.100000000000023" height="8.5" fill="#a8c4e8" />
<rect x="555.4" y="439.3" width="24.800000000000068" height="12.5" fill="#a8c4e8" />
<rect x="586.4" y="439.3" width="25.100000000000023" height="2.599999999999966" fill="#a8c4e8" />
<rect x="618.0" y="424.3" width="25.100000000000023" height="15.0" fill="#a8c4e8" />
<rect x="649.3" y="439.3" width="24.90000000000009" height="1.6999999999999886" fill="#a8c4e8" />
<line x1="266.4" y1="439.3" x2="685" y2="439.3" stroke="#8a8a8a" stroke-width="0.8" />
<line x1="284.1" y1="432.5" x2="284.1" y2="434.5" stroke="#555" stroke-width="0.6" />
<line x1="282.90000000000003" y1="432.5" x2="285.3" y2="432.5" stroke="#555" stroke-width="0.6" />
<line x1="282.90000000000003" y1="434.5" x2="285.3" y2="434.5" stroke="#555" stroke-width="0.6" />
<line x1="315.7" y1="440.3" x2="315.7" y2="444.3" stroke="#555" stroke-width="0.6" />
<line x1="314.5" y1="440.3" x2="316.9" y2="440.3" stroke="#555" stroke-width="0.6" />
<line x1="314.5" y1="444.3" x2="316.9" y2="444.3" stroke="#555" stroke-width="0.6" />
<line x1="347.1" y1="439.6" x2="347.1" y2="441.6" stroke="#555" stroke-width="0.6" />
<line x1="345.90000000000003" y1="439.6" x2="348.3" y2="439.6" stroke="#555" stroke-width="0.6" />
<line x1="345.90000000000003" y1="441.6" x2="348.3" y2="441.6" stroke="#555" stroke-width="0.6" />
<line x1="378.6" y1="449.4" x2="378.6" y2="453.9" stroke="#555" stroke-width="0.6" />
<line x1="377.40000000000003" y1="449.4" x2="379.8" y2="449.4" stroke="#555" stroke-width="0.6" />
<line x1="377.40000000000003" y1="453.9" x2="379.8" y2="453.9" stroke="#555" stroke-width="0.6" />
<line x1="410.1" y1="448.6" x2="410.1" y2="451.2" stroke="#555" stroke-width="0.6" />
<line x1="408.90000000000003" y1="448.6" x2="411.3" y2="448.6" stroke="#555" stroke-width="0.6" />
<line x1="408.90000000000003" y1="451.2" x2="411.3" y2="451.2" stroke="#555" stroke-width="0.6" />
<line x1="441.7" y1="413.1" x2="441.7" y2="416.3" stroke="#555" stroke-width="0.6" />
<line x1="440.5" y1="413.1" x2="442.9" y2="413.1" stroke="#555" stroke-width="0.6" />
<line x1="440.5" y1="416.3" x2="442.9" y2="416.3" stroke="#555" stroke-width="0.6" />
<line x1="473.2" y1="442.0" x2="473.2" y2="445.2" stroke="#555" stroke-width="0.6" />
<line x1="472.0" y1="442.0" x2="474.4" y2="442.0" stroke="#555" stroke-width="0.6" />
<line x1="472.0" y1="445.2" x2="474.4" y2="445.2" stroke="#555" stroke-width="0.6" />
<line x1="504.2" y1="447.8" x2="504.2" y2="451.8" stroke="#555" stroke-width="0.6" />
<line x1="503.0" y1="447.8" x2="505.4" y2="447.8" stroke="#555" stroke-width="0.6" />
<line x1="503.0" y1="451.8" x2="505.4" y2="451.8" stroke="#555" stroke-width="0.6" />
<line x1="535.9" y1="445.9" x2="535.9" y2="448.6" stroke="#555" stroke-width="0.6" />
<line x1="534.6999999999999" y1="445.9" x2="537.1" y2="445.9" stroke="#555" stroke-width="0.6" />
<line x1="534.6999999999999" y1="448.6" x2="537.1" y2="448.6" stroke="#555" stroke-width="0.6" />
<line x1="567.5" y1="450.0" x2="567.5" y2="453.2" stroke="#555" stroke-width="0.6" />
<line x1="566.3" y1="450.0" x2="568.7" y2="450.0" stroke="#555" stroke-width="0.6" />
<line x1="566.3" y1="453.2" x2="568.7" y2="453.2" stroke="#555" stroke-width="0.6" />
<line x1="599.1" y1="439.2" x2="599.1" y2="444.6" stroke="#555" stroke-width="0.6" />
<line x1="597.9" y1="439.2" x2="600.3000000000001" y2="439.2" stroke="#555" stroke-width="0.6" />
<line x1="597.9" y1="444.6" x2="600.3000000000001" y2="444.6" stroke="#555" stroke-width="0.6" />
<line x1="630.4" y1="423.0" x2="630.4" y2="426.2" stroke="#555" stroke-width="0.6" />
<line x1="629.1999999999999" y1="423.0" x2="631.6" y2="423.0" stroke="#555" stroke-width="0.6" />
<line x1="629.1999999999999" y1="426.2" x2="631.6" y2="426.2" stroke="#555" stroke-width="0.6" />
<line x1="662.0" y1="437.0" x2="662.0" y2="445.4" stroke="#555" stroke-width="0.6" />
<line x1="660.8" y1="437.0" x2="663.2" y2="437.0" stroke="#555" stroke-width="0.6" />
<line x1="660.8" y1="445.4" x2="663.2" y2="445.4" stroke="#555" stroke-width="0.6" />
<line x1="266.4" y1="404.1" x2="266.4" y2="475.7" stroke="#6d6d6d" stroke-width="0.9" />
<line x1="266.4" y1="475.3" x2="683.6" y2="475.3" stroke="#6d6d6d" stroke-width="0.9" />
<line x1="266.4" y1="415.3" x2="271.0" y2="415.3" stroke="#6d6d6d" stroke-width="0.8" />
<line x1="266.4" y1="427.3" x2="271.0" y2="427.3" stroke="#6d6d6d" stroke-width="0.8" />
<line x1="266.4" y1="439.3" x2="271.0" y2="439.3" stroke="#6d6d6d" stroke-width="0.8" />
<line x1="266.4" y1="451.3" x2="271.0" y2="451.3" stroke="#6d6d6d" stroke-width="0.8" />
<line x1="266.4" y1="463.3" x2="271.0" y2="463.3" stroke="#6d6d6d" stroke-width="0.8" />
<text x="254.9" y="417.2" font-size="11.02" fill="#242424" textLength="9.5" lengthAdjust="spacingAndGlyphs" >10</text>
<text x="254.0" y="442.7" font-size="11.02" fill="#242424" textLength="5.0" lengthAdjust="spacingAndGlyphs" >0</text>
<text x="254.0" y="465.9" font-size="11.02" fill="#242424" textLength="13.2" lengthAdjust="spacingAndGlyphs" >-10</text>
<line x1="283.5" y1="475.3" x2="283.5" y2="472.0" stroke="#6d6d6d" stroke-width="0.8" />
<text x="283.5" y="485.6" font-size="10.19" fill="#242424" text-anchor="middle" textLength="9.2" lengthAdjust="spacingAndGlyphs" >S1</text>
<line x1="315.7" y1="475.3" x2="315.7" y2="472.0" stroke="#6d6d6d" stroke-width="0.8" />
<text x="315.7" y="485.6" font-size="10.19" fill="#242424" text-anchor="middle" textLength="9.2" lengthAdjust="spacingAndGlyphs" >S2</text>
<line x1="346.6" y1="475.3" x2="346.6" y2="472.0" stroke="#6d6d6d" stroke-width="0.8" />
<text x="346.6" y="485.6" font-size="10.19" fill="#242424" text-anchor="middle" textLength="9.2" lengthAdjust="spacingAndGlyphs" >S3</text>
<line x1="377.8" y1="475.3" x2="377.8" y2="472.0" stroke="#6d6d6d" stroke-width="0.8" />
<text x="377.8" y="485.6" font-size="10.19" fill="#242424" text-anchor="middle" textLength="9.2" lengthAdjust="spacingAndGlyphs" >S4</text>
<line x1="409.3" y1="475.3" x2="409.3" y2="472.0" stroke="#6d6d6d" stroke-width="0.8" />
<text x="409.3" y="485.6" font-size="10.19" fill="#242424" text-anchor="middle" textLength="9.2" lengthAdjust="spacingAndGlyphs" >S5</text>
<line x1="440.4" y1="475.3" x2="440.4" y2="472.0" stroke="#6d6d6d" stroke-width="0.8" />
<text x="440.4" y="485.6" font-size="10.19" fill="#242424" text-anchor="middle" textLength="9.2" lengthAdjust="spacingAndGlyphs" >S6</text>
<line x1="471.9" y1="475.3" x2="471.9" y2="472.0" stroke="#6d6d6d" stroke-width="0.8" />
<text x="471.9" y="485.6" font-size="10.19" fill="#242424" text-anchor="middle" textLength="9.2" lengthAdjust="spacingAndGlyphs" >S7</text>
<line x1="503.0" y1="475.3" x2="503.0" y2="472.0" stroke="#6d6d6d" stroke-width="0.8" />
<text x="503.0" y="485.6" font-size="10.19" fill="#242424" text-anchor="middle" textLength="9.2" lengthAdjust="spacingAndGlyphs" >S8</text>
<line x1="534.3" y1="475.3" x2="534.3" y2="472.0" stroke="#6d6d6d" stroke-width="0.8" />
<text x="534.3" y="485.6" font-size="10.19" fill="#242424" text-anchor="middle" textLength="9.2" lengthAdjust="spacingAndGlyphs" >S9</text>
<line x1="565.6" y1="475.3" x2="565.6" y2="472.0" stroke="#6d6d6d" stroke-width="0.8" />
<text x="565.6" y="485.6" font-size="10.19" fill="#242424" text-anchor="middle" textLength="12.8" lengthAdjust="spacingAndGlyphs" >S10</text>
<line x1="597.2" y1="475.3" x2="597.2" y2="472.0" stroke="#6d6d6d" stroke-width="0.8" />
<text x="597.2" y="485.6" font-size="10.19" fill="#242424" text-anchor="middle" textLength="12.8" lengthAdjust="spacingAndGlyphs" >S11</text>
<line x1="628.8" y1="475.3" x2="628.8" y2="472.0" stroke="#6d6d6d" stroke-width="0.8" />
<text x="628.8" y="485.6" font-size="10.19" fill="#242424" text-anchor="middle" textLength="12.8" lengthAdjust="spacingAndGlyphs" >S13</text>
<line x1="660.7" y1="475.3" x2="660.7" y2="472.0" stroke="#6d6d6d" stroke-width="0.8" />
<text x="660.7" y="485.6" font-size="10.19" fill="#242424" text-anchor="middle" textLength="12.8" lengthAdjust="spacingAndGlyphs" >S14</text>
<text x="234.8" y="481.8" font-size="11.02" fill="#242424" textLength="85.9" lengthAdjust="spacingAndGlyphs" transform="rotate(-90 234.8 481.8)" >Change in Steps per</text>
<text x="247.6" y="469.9" font-size="11.02" fill="#242424" textLength="64.1" lengthAdjust="spacingAndGlyphs" transform="rotate(-90 247.6 469.9)" >minute with SF</text>
</svg></body></html>
